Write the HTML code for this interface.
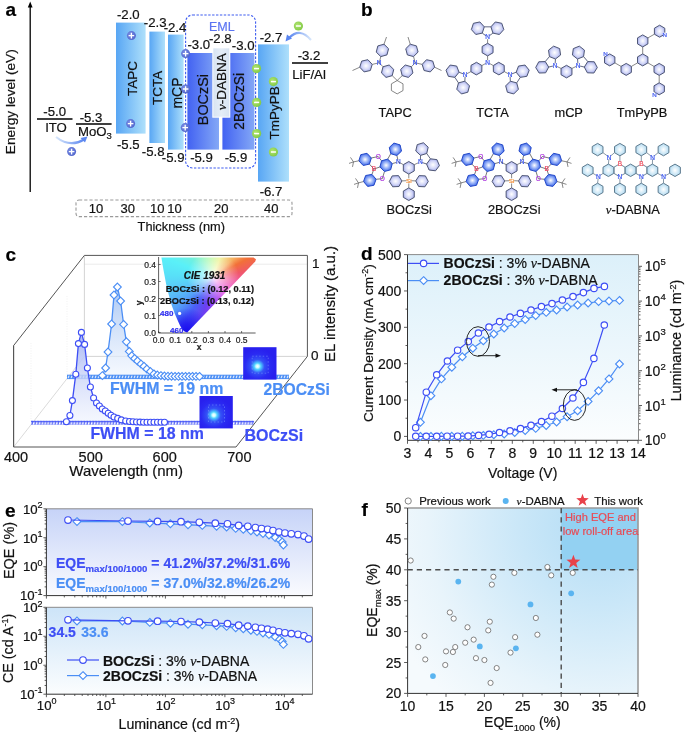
<!DOCTYPE html>
<html><head><meta charset="utf-8"><style>
html,body{margin:0;padding:0;background:#fff;} body{position:relative;width:685px;height:733px;overflow:hidden;}
svg{display:block;position:absolute;left:0;top:0;will-change:transform;font-family:"Liberation Sans",sans-serif;} text{paint-order:stroke;}
</style></head><body>
<svg width="685" height="733" viewBox="0 0 685 733">
<defs>
<linearGradient id="gL" x1="0" x2="1" y1="0" y2="0"><stop offset="0" stop-color="#58a6f4"/><stop offset="1" stop-color="#aee0fb"/></linearGradient>
<linearGradient id="gD" x1="0" x2="1" y1="0" y2="0"><stop offset="0" stop-color="#4262f2"/><stop offset="1" stop-color="#84a8f6"/></linearGradient>
<linearGradient id="gN" x1="0" x2="1" y1="0" y2="0"><stop offset="0" stop-color="#d8e4f2"/><stop offset="0.5" stop-color="#e4edf7"/><stop offset="1" stop-color="#d8e4f2"/></linearGradient>
<radialGradient id="gPlus" cx="0.4" cy="0.4" r="0.7"><stop offset="0" stop-color="#7f92e8"/><stop offset="1" stop-color="#4a5fc8"/></radialGradient>
<radialGradient id="gMinus" cx="0.4" cy="0.4" r="0.7"><stop offset="0" stop-color="#b2e672"/><stop offset="1" stop-color="#7cc640"/></radialGradient>
<linearGradient id="gArr" x1="0" x2="1" y1="0" y2="0"><stop offset="0" stop-color="#d6e6fb"/><stop offset="1" stop-color="#5a86f0"/></linearGradient>
<linearGradient id="gArr2" x1="1" x2="0" y1="0" y2="0"><stop offset="0" stop-color="#d6e6fb"/><stop offset="1" stop-color="#5a86f0"/></linearGradient>
<radialGradient id="hLav" cx="0.5" cy="0.5" r="0.55"><stop offset="0" stop-color="#ffffff"/><stop offset="0.55" stop-color="#d4d8f8"/><stop offset="1" stop-color="#9aa2e6"/></radialGradient>
<radialGradient id="hBlue" cx="0.5" cy="0.5" r="0.55"><stop offset="0" stop-color="#ffffff"/><stop offset="0.45" stop-color="#9ab4f8"/><stop offset="1" stop-color="#2c5ae6"/></radialGradient>
<radialGradient id="hCyan" cx="0.5" cy="0.5" r="0.55"><stop offset="0" stop-color="#ffffff"/><stop offset="1" stop-color="#acd8f0"/></radialGradient>
<linearGradient id="gSpec1" x1="0" x2="0" y1="0" y2="1"><stop offset="0" stop-color="#a9b8f4"/><stop offset="1" stop-color="#eef2fd" stop-opacity="0.6"/></linearGradient>
<linearGradient id="gSpec2" x1="0" x2="0" y1="0" y2="1"><stop offset="0" stop-color="#a8c6f4"/><stop offset="1" stop-color="#eef4fd" stop-opacity="0.6"/></linearGradient>
<radialGradient id="gDev" cx="0.43" cy="0.59" r="0.55" fx="0.43" fy="0.59"><stop offset="0" stop-color="#ffffff"/><stop offset="0.09" stop-color="#c8fbff"/><stop offset="0.18" stop-color="#4fd2ff"/><stop offset="0.38" stop-color="#3452f6"/><stop offset="0.7" stop-color="#2a2af2"/><stop offset="1" stop-color="#2820ee"/></radialGradient>
<linearGradient id="cieH" x1="158" x2="258" y1="0" y2="0" gradientUnits="userSpaceOnUse"><stop offset="0" stop-color="#4fd9f6"/><stop offset="0.3" stop-color="#6eefd8"/><stop offset="0.5" stop-color="#b8f59a"/><stop offset="0.65" stop-color="#eef08a"/><stop offset="0.82" stop-color="#f7a558"/><stop offset="1" stop-color="#f2602a"/></linearGradient>
<linearGradient id="cieM" x1="200" x2="240" y1="300" y2="270" gradientUnits="userSpaceOnUse"><stop offset="0" stop-color="#d040f0" stop-opacity="0.9"/><stop offset="0.5" stop-color="#f060b0" stop-opacity="0.55"/><stop offset="1" stop-color="#f06080" stop-opacity="0"/></linearGradient>
<radialGradient id="cieB" cx="188" cy="332" r="38" gradientUnits="userSpaceOnUse"><stop offset="0" stop-color="#1a10f0"/><stop offset="0.45" stop-color="#2a30f5" stop-opacity="0.85"/><stop offset="1" stop-color="#4060f8" stop-opacity="0"/></radialGradient>
<linearGradient id="gD_bg" x1="0" x2="0" y1="0" y2="1"><stop offset="0" stop-color="#dcf0fa"/><stop offset="1" stop-color="#fbfdfe"/></linearGradient>
<linearGradient id="gE_bg" x1="0" x2="0" y1="0" y2="1"><stop offset="0" stop-color="#c6d3f8"/><stop offset="1" stop-color="#fafbfe"/></linearGradient><linearGradient id="gE_bg2" x1="0" x2="0" y1="0" y2="1"><stop offset="0" stop-color="#cde4f8"/><stop offset="1" stop-color="#fbfdfe"/></linearGradient>
<radialGradient id="gF_bg" cx="600" cy="525" r="230" gradientUnits="userSpaceOnUse"><stop offset="0" stop-color="#b2dcf5"/><stop offset="0.35" stop-color="#cae7f8"/><stop offset="0.75" stop-color="#e8f4fb"/><stop offset="1" stop-color="#f5fafd"/></radialGradient>

</defs>
<rect width="685" height="733" fill="#fff"/>
<g id="pa"><text x="5.5" y="15.6" font-size="19" text-anchor="start" font-weight="bold" fill="#000"  stroke="#000" stroke-width="0.2">a</text>
<path d="M30.2 192V6" stroke="#000" stroke-width="1.3"/>
<path d="M27.8 7.5L30.2 1.5L32.6 7.5Z" fill="#000"/>
<text transform="translate(9.8,101.7) rotate(-90)" x="0" y="4.93" font-size="13.7" text-anchor="middle" font-weight="normal" fill="#111"  stroke="#111" stroke-width="0.2">Energy level (eV)</text>
<path d="M37 119H72.5M76 124H111.6" stroke="#000" stroke-width="1.6"/>
<text x="54.7" y="116.4" font-size="13.2" text-anchor="middle" font-weight="normal" fill="#111"  stroke="#111" stroke-width="0.2">-5.0</text>
<text x="56" y="131.6" font-size="13.2" text-anchor="middle" font-weight="normal" fill="#111"  stroke="#111" stroke-width="0.2">ITO</text>
<text x="91" y="121.6" font-size="13.2" text-anchor="middle" font-weight="normal" fill="#111"  stroke="#111" stroke-width="0.2">-5.3</text>
<text x="78" y="136" font-size="13.2" fill="#111" stroke="#111" stroke-width="0.2">MoO<tspan font-size="9.5" dy="3">3</tspan></text>
<path d="M56 137Q70 148 84 139.5" fill="none" stroke="url(#gArr)" stroke-width="2.2"/>
<path d="M87.5 136.5L80.5 138L85 142.5Z" fill="#5a86f0"/>
<circle cx="71.6" cy="151.6" r="4.5" fill="url(#gPlus)"/><path d="M68.81 151.6H74.39M71.6 148.81V154.39" stroke="#fff" stroke-width="1.3"/>
<rect x="116" y="22.6" width="29.599999999999994" height="111.0" fill="url(#gL)"/>
<rect x="149.4" y="31.6" width="15.599999999999994" height="111.4" fill="url(#gL)"/>
<rect x="168" y="34.6" width="15.599999999999994" height="115.0" fill="url(#gL)"/>
<rect x="187.4" y="53" width="31.599999999999994" height="96.6" fill="url(#gD)"/>
<rect x="222.4" y="53" width="32.0" height="96.6" fill="url(#gD)"/>
<rect x="212.3" y="47.3" width="18" height="70.4" fill="#fff"/>
<rect x="213.3" y="48.3" width="16.0" height="68.4" fill="url(#gN)"/>
<rect x="258" y="44.4" width="31" height="137.2" fill="url(#gL)"/>
<rect x="185.6" y="15" width="70" height="153" rx="7" fill="none" stroke="#3f5df0" stroke-width="1.1" stroke-dasharray="2.4,1.5"/>
<text x="221.8" y="31" font-size="12.5" text-anchor="middle" font-weight="normal" fill="#5b74f2"  stroke="#5b74f2" stroke-width="0.2">EML</text>
<path d="M292 63H328" stroke="#000" stroke-width="1.6"/>
<text x="309" y="60" font-size="13.2" text-anchor="middle" font-weight="normal" fill="#111"  stroke="#111" stroke-width="0.2">-3.2</text>
<text x="309" y="79" font-size="13.2" text-anchor="middle" font-weight="normal" fill="#111"  stroke="#111" stroke-width="0.2">LiF/Al</text>
<text x="128.3" y="19" font-size="13.2" text-anchor="middle" font-weight="normal" fill="#111"  stroke="#111" stroke-width="0.2">-2.0</text>
<text x="155.2" y="27" font-size="13.2" text-anchor="middle" font-weight="normal" fill="#111"  stroke="#111" stroke-width="0.2">-2.3</text>
<text x="175" y="32" font-size="13.2" text-anchor="middle" font-weight="normal" fill="#111"  stroke="#111" stroke-width="0.2">-2.4</text>
<text x="198.8" y="49" font-size="13.2" text-anchor="middle" font-weight="normal" fill="#111"  stroke="#111" stroke-width="0.2">-3.0</text>
<text x="220.3" y="43" font-size="13.2" text-anchor="middle" font-weight="normal" fill="#111"  stroke="#111" stroke-width="0.2">-2.8</text>
<text x="243.2" y="49.6" font-size="13.2" text-anchor="middle" font-weight="normal" fill="#111"  stroke="#111" stroke-width="0.2">-3.0</text>
<text x="271" y="42" font-size="13.2" text-anchor="middle" font-weight="normal" fill="#111"  stroke="#111" stroke-width="0.2">-2.7</text>
<text x="128.3" y="149" font-size="13.2" text-anchor="middle" font-weight="normal" fill="#111"  stroke="#111" stroke-width="0.2">-5.5</text>
<text x="153.2" y="156" font-size="13.2" text-anchor="middle" font-weight="normal" fill="#111"  stroke="#111" stroke-width="0.2">-5.8</text>
<text x="173.2" y="162" font-size="13.2" text-anchor="middle" font-weight="normal" fill="#111"  stroke="#111" stroke-width="0.2">-5.9</text>
<text x="201.5" y="162.4" font-size="13.2" text-anchor="middle" font-weight="normal" fill="#111"  stroke="#111" stroke-width="0.2">-5.9</text>
<text x="236" y="162.4" font-size="13.2" text-anchor="middle" font-weight="normal" fill="#111"  stroke="#111" stroke-width="0.2">-5.9</text>
<text x="271" y="196" font-size="13.2" text-anchor="middle" font-weight="normal" fill="#111"  stroke="#111" stroke-width="0.2">-6.7</text>
<text transform="translate(132.2,78.5) rotate(-90)" x="0" y="4.86" font-size="13.5" text-anchor="middle" font-weight="normal" fill="#111"  stroke="#111" stroke-width="0.2">TAPC</text>
<text transform="translate(157.3,87.9) rotate(-90)" x="0" y="4.82" font-size="13.4" text-anchor="middle" font-weight="normal" fill="#111"  stroke="#111" stroke-width="0.2">TCTA</text>
<text transform="translate(177,93) rotate(-90)" x="0" y="5.04" font-size="14" text-anchor="middle" font-weight="normal" fill="#111"  stroke="#111" stroke-width="0.2">mCP</text>
<text transform="translate(203.2,99.6) rotate(-90)" x="0" y="5.18" font-size="14.4" text-anchor="middle" font-weight="normal" fill="#111"  stroke="#111" stroke-width="0.2">BOCzSi</text>
<text transform="translate(221,81.7) rotate(-90)" x="0" y="4.86" font-size="13.5" text-anchor="middle" font-weight="normal" fill="#111"  stroke="#111" stroke-width="0.2"><tspan font-family="Liberation Serif" font-style="italic">ν</tspan>-DABNA</text>
<text transform="translate(238.8,101.3) rotate(-90)" x="0" y="4.97" font-size="13.8" text-anchor="middle" font-weight="normal" fill="#111"  stroke="#111" stroke-width="0.2">2BOCzSi</text>
<text transform="translate(273.9,112.9) rotate(-90)" x="0" y="4.86" font-size="13.5" text-anchor="middle" font-weight="normal" fill="#111"  stroke="#111" stroke-width="0.2">TmPyPB</text>
<circle cx="131.4" cy="35.6" r="4.5" fill="url(#gPlus)"/><path d="M128.61 35.6H134.19M131.4 32.81V38.39" stroke="#fff" stroke-width="1.3"/>
<circle cx="130.6" cy="123.6" r="4.5" fill="url(#gPlus)"/><path d="M127.81 123.6H133.39M130.6 120.81V126.39" stroke="#fff" stroke-width="1.3"/>
<circle cx="185.6" cy="53.6" r="4.5" fill="url(#gPlus)"/><path d="M182.81 53.6H188.39M185.6 50.81V56.39" stroke="#fff" stroke-width="1.3"/>
<circle cx="185.6" cy="89" r="4.5" fill="url(#gPlus)"/><path d="M182.81 89H188.39M185.6 86.21V91.79" stroke="#fff" stroke-width="1.3"/>
<circle cx="185.2" cy="127.6" r="4.5" fill="url(#gPlus)"/><path d="M182.41 127.6H187.99M185.2 124.81V130.39" stroke="#fff" stroke-width="1.3"/>
<circle cx="256.5" cy="68.6" r="4.6" fill="url(#gMinus)"/><path d="M253.97 68.6H259.03" stroke="#fff" stroke-width="1.5"/>
<circle cx="256.6" cy="102.4" r="4.6" fill="url(#gMinus)"/><path d="M254.07 102.4H259.13" stroke="#fff" stroke-width="1.5"/>
<circle cx="256.6" cy="133.6" r="4.6" fill="url(#gMinus)"/><path d="M254.07 133.6H259.13" stroke="#fff" stroke-width="1.5"/>
<circle cx="273.4" cy="81.6" r="4.6" fill="url(#gMinus)"/><path d="M270.87 81.6H275.93" stroke="#fff" stroke-width="1.5"/>
<circle cx="273.4" cy="152" r="4.6" fill="url(#gMinus)"/><path d="M270.87 152H275.93" stroke="#fff" stroke-width="1.5"/>
<circle cx="298.4" cy="26" r="4.6" fill="url(#gMinus)"/><path d="M295.87 26H300.93" stroke="#fff" stroke-width="1.5"/>
<path d="M311 40Q300 27 289 38" fill="none" stroke="url(#gArr2)" stroke-width="2.2"/>
<path d="M285.5 41.5L287 34.5L292 38.5Z" fill="#5a86f0"/>
<rect x="76" y="200" width="216" height="16.6" rx="3" fill="none" stroke="#9a9a9a" stroke-width="1.1" stroke-dasharray="3.2,2"/>
<text x="96" y="213.4" font-size="13" text-anchor="middle" font-weight="normal" fill="#111"  stroke="#111" stroke-width="0.2">10</text>
<text x="127.7" y="213.4" font-size="13" text-anchor="middle" font-weight="normal" fill="#111"  stroke="#111" stroke-width="0.2">30</text>
<text x="157.2" y="213.4" font-size="13" text-anchor="middle" font-weight="normal" fill="#111"  stroke="#111" stroke-width="0.2">10</text>
<text x="174.4" y="213.4" font-size="13" text-anchor="middle" font-weight="normal" fill="#111"  stroke="#111" stroke-width="0.2">10</text>
<text x="221.3" y="213.4" font-size="13" text-anchor="middle" font-weight="normal" fill="#111"  stroke="#111" stroke-width="0.2">20</text>
<text x="271.3" y="213.4" font-size="13" text-anchor="middle" font-weight="normal" fill="#111"  stroke="#111" stroke-width="0.2">40</text>
<text x="181.3" y="230.5" font-size="12.8" text-anchor="middle" font-weight="normal" fill="#111"  stroke="#111" stroke-width="0.2">Thickness (nm)</text></g>
<g id="pb"><text x="361" y="16" font-size="19" text-anchor="start" font-weight="bold" fill="#000"  stroke="#000" stroke-width="0.2">b</text>
<path d="M397.20 80.50 L403.00 83.85 L403.00 90.55 L397.20 93.90 L391.40 90.55 L391.40 83.85Z" fill="none" stroke="#555" stroke-width="0.7"/>
<path d="M392.20 75.65L397.20 80.50" stroke="#555" stroke-width="0.7"/>
<path d="M402.20 75.65L397.20 80.50" stroke="#555" stroke-width="0.7"/>
<path d="M383.00 66.75L379.20 62.80" stroke="#555" stroke-width="0.7"/>
<path d="M380.80 56.60L379.20 62.80" stroke="#555" stroke-width="0.7"/>
<path d="M372.24 64.38L379.20 62.80" stroke="#555" stroke-width="0.7"/>
<path d="M411.40 66.75L415.20 62.80" stroke="#555" stroke-width="0.7"/>
<path d="M413.55 56.58L415.20 62.80" stroke="#555" stroke-width="0.7"/>
<path d="M422.16 64.38L415.20 62.80" stroke="#555" stroke-width="0.7"/>
<path d="M384.00 44.20L386.50 37.00" stroke="#555" stroke-width="0.7"/>
<path d="M410.25 44.22L408.00 37.00" stroke="#555" stroke-width="0.7"/>
<path d="M359.76 67.22L352.50 70.50" stroke="#555" stroke-width="0.7"/>
<path d="M434.64 67.22L441.50 70.50" stroke="#555" stroke-width="0.7"/>
<path d="M392.20 75.65 L386.04 77.41 L381.45 72.95 L383.00 66.75 L389.16 64.99 L393.75 69.45Z" fill="url(#hLav)" stroke="#4f5775" stroke-width="1.0"/>
<path d="M402.20 75.65 L400.65 69.45 L405.24 64.99 L411.40 66.75 L412.95 72.95 L408.36 77.41Z" fill="url(#hLav)" stroke="#4f5775" stroke-width="1.0"/>
<path d="M380.80 56.60 L376.23 52.11 L377.83 45.92 L384.00 44.20 L388.57 48.69 L386.97 54.88Z" fill="url(#hLav)" stroke="#4f5775" stroke-width="1.0"/>
<path d="M372.24 64.38 L370.35 70.50 L364.11 71.91 L359.76 67.22 L361.65 61.10 L367.89 59.69Z" fill="url(#hLav)" stroke="#4f5775" stroke-width="1.0"/>
<path d="M413.55 56.58 L407.37 54.92 L405.72 48.73 L410.25 44.22 L416.43 45.88 L418.08 52.07Z" fill="url(#hLav)" stroke="#4f5775" stroke-width="1.0"/>
<path d="M422.16 64.38 L426.51 59.69 L432.75 61.10 L434.64 67.22 L430.29 71.91 L424.05 70.50Z" fill="url(#hLav)" stroke="#4f5775" stroke-width="1.0"/>
<text x="379.20" y="65.14" font-size="6.5" text-anchor="middle" fill="#3a55f0" stroke="#3a55f0" stroke-width="0.2">N</text>
<text x="415.20" y="65.14" font-size="6.5" text-anchor="middle" fill="#3a55f0" stroke="#3a55f0" stroke-width="0.2">N</text>
<text x="395.2" y="117" font-size="12.8" text-anchor="middle" font-weight="normal" fill="#111"  stroke="#111" stroke-width="0.2">TAPC</text>
<path d="M482.26 33.12 L475.81 34.49 L471.39 29.59 L473.43 23.31 L479.88 21.94 L484.30 26.84Z" fill="url(#hLav)" stroke="#4f5775" stroke-width="1.0"/><path d="M492.94 33.12 L490.90 26.84 L495.32 21.94 L501.77 23.31 L503.81 29.59 L499.39 34.49Z" fill="url(#hLav)" stroke="#4f5775" stroke-width="1.0"/><path d="M487.60 37.00L482.26 33.12" stroke="#4f5775" stroke-width="0.9"/><path d="M487.60 37.00L492.94 33.12" stroke="#4f5775" stroke-width="0.9"/><path d="M484.30 26.84L490.90 26.84" stroke="#4f5775" stroke-width="0.9"/>
<path d="M464.85 81.19 L469.52 85.86 L467.81 92.23 L461.44 93.94 L456.77 89.27 L458.48 82.90Z" fill="url(#hLav)" stroke="#4f5775" stroke-width="1.0"/><path d="M459.04 72.24 L454.89 77.36 L448.37 76.33 L446.00 70.17 L450.16 65.04 L456.68 66.07Z" fill="url(#hLav)" stroke="#4f5775" stroke-width="1.0"/><path d="M465.20 74.60L464.85 81.19" stroke="#4f5775" stroke-width="0.9"/><path d="M465.20 74.60L459.04 72.23" stroke="#4f5775" stroke-width="0.9"/><path d="M458.48 82.90L454.89 77.36" stroke="#4f5775" stroke-width="0.9"/>
<path d="M516.16 72.24 L518.52 66.07 L525.04 65.04 L529.20 70.17 L526.83 76.33 L520.31 77.36Z" fill="url(#hLav)" stroke="#4f5775" stroke-width="1.0"/><path d="M510.35 81.19 L516.72 82.90 L518.43 89.27 L513.76 93.94 L507.39 92.23 L505.68 85.86Z" fill="url(#hLav)" stroke="#4f5775" stroke-width="1.0"/><path d="M510.00 74.60L516.16 72.23" stroke="#4f5775" stroke-width="0.9"/><path d="M510.00 74.60L510.35 81.19" stroke="#4f5775" stroke-width="0.9"/><path d="M520.31 77.36L516.72 82.90" stroke="#4f5775" stroke-width="0.9"/>
<path d="M487.60 43.30L487.60 37.00" stroke="#555" stroke-width="0.7"/>
<path d="M487.60 55.90L487.60 62.40" stroke="#555" stroke-width="0.7"/>
<path d="M487.60 43.30 L493.06 46.45 L493.06 52.75 L487.60 55.90 L482.14 52.75 L482.14 46.45Z" fill="url(#hLav)" stroke="#4f5775" stroke-width="1.0"/>
<path d="M481.91 65.55L487.60 62.40" stroke="#555" stroke-width="0.7"/>
<path d="M470.89 71.65L465.20 74.60" stroke="#555" stroke-width="0.7"/>
<path d="M481.91 65.55 L481.80 71.85 L476.29 74.90 L470.89 71.65 L471.00 65.35 L476.51 62.30Z" fill="url(#hLav)" stroke="#4f5775" stroke-width="1.0"/>
<path d="M493.29 65.55L487.60 62.40" stroke="#555" stroke-width="0.7"/>
<path d="M504.31 71.65L510.00 74.60" stroke="#555" stroke-width="0.7"/>
<path d="M493.29 65.55 L498.69 62.30 L504.20 65.35 L504.31 71.65 L498.91 74.90 L493.40 71.85Z" fill="url(#hLav)" stroke="#4f5775" stroke-width="1.0"/>
<circle cx="487.6" cy="37" r="2.2" fill="#fff"/>
<text x="487.60" y="39.34" font-size="6.5" text-anchor="middle" fill="#3a55f0" stroke="#3a55f0" stroke-width="0.2">N</text>
<circle cx="487.6" cy="62.4" r="2.2" fill="#fff"/>
<text x="487.60" y="64.74" font-size="6.5" text-anchor="middle" fill="#3a55f0" stroke="#3a55f0" stroke-width="0.2">N</text>
<circle cx="465.2" cy="74.6" r="2.2" fill="#fff"/>
<text x="465.20" y="76.94" font-size="6.5" text-anchor="middle" fill="#3a55f0" stroke="#3a55f0" stroke-width="0.2">N</text>
<circle cx="510" cy="74.6" r="2.2" fill="#fff"/>
<text x="510.00" y="76.94" font-size="6.5" text-anchor="middle" fill="#3a55f0" stroke="#3a55f0" stroke-width="0.2">N</text>
<text x="492.5" y="117" font-size="12.8" text-anchor="middle" font-weight="normal" fill="#111"  stroke="#111" stroke-width="0.2">TCTA</text>
<path d="M548.69 67.07 L545.64 72.81 L539.15 73.04 L535.70 67.53 L538.75 61.79 L545.25 61.56Z" fill="url(#hLav)" stroke="#4f5775" stroke-width="1.0"/><path d="M555.45 59.02 L549.43 56.58 L548.52 50.15 L553.65 46.14 L559.67 48.58 L560.58 55.02Z" fill="url(#hLav)" stroke="#4f5775" stroke-width="1.0"/><path d="M555.00 65.50L548.69 67.07" stroke="#4f5775" stroke-width="0.9"/><path d="M555.00 65.50L555.45 59.02" stroke="#4f5775" stroke-width="0.9"/><path d="M545.25 61.56L549.43 56.58" stroke="#4f5775" stroke-width="0.9"/>
<path d="M577.55 59.02 L572.42 55.02 L573.33 48.58 L579.35 46.14 L584.48 50.15 L583.57 56.58Z" fill="url(#hLav)" stroke="#4f5775" stroke-width="1.0"/><path d="M584.31 67.07 L587.75 61.56 L594.25 61.79 L597.30 67.53 L593.85 73.04 L587.36 72.81Z" fill="url(#hLav)" stroke="#4f5775" stroke-width="1.0"/><path d="M578.00 65.50L577.55 59.02" stroke="#4f5775" stroke-width="0.9"/><path d="M578.00 65.50L584.31 67.07" stroke="#4f5775" stroke-width="0.9"/><path d="M583.57 56.58L587.75 61.56" stroke="#4f5775" stroke-width="0.9"/>
<path d="M561.04 68.45L555.00 65.50" stroke="#555" stroke-width="0.7"/>
<path d="M571.96 68.45L578.00 65.50" stroke="#555" stroke-width="0.7"/>
<path d="M566.50 65.30 L571.96 68.45 L571.96 74.75 L566.50 77.90 L561.04 74.75 L561.04 68.45Z" fill="url(#hLav)" stroke="#4f5775" stroke-width="1.0"/>
<circle cx="555" cy="65.5" r="2.2" fill="#fff"/>
<text x="555.00" y="67.84" font-size="6.5" text-anchor="middle" fill="#3a55f0" stroke="#3a55f0" stroke-width="0.2">N</text>
<circle cx="578" cy="65.5" r="2.2" fill="#fff"/>
<text x="578.00" y="67.84" font-size="6.5" text-anchor="middle" fill="#3a55f0" stroke="#3a55f0" stroke-width="0.2">N</text>
<text x="568.7" y="117" font-size="12.8" text-anchor="middle" font-weight="normal" fill="#111"  stroke="#111" stroke-width="0.2">mCP</text>
<path d="M642.70 53.90L642.70 46.90" stroke="#555" stroke-width="0.7"/>
<path d="M647.90 37.90L654.40 34.19" stroke="#555" stroke-width="0.7"/>
<path d="M637.50 62.90L631.40 66.41" stroke="#555" stroke-width="0.7"/>
<path d="M621.01 66.39L614.90 62.89" stroke="#555" stroke-width="0.7"/>
<path d="M647.90 62.90L654.00 66.41" stroke="#555" stroke-width="0.7"/>
<path d="M659.21 75.40L659.20 82.80" stroke="#555" stroke-width="0.7"/>
<path d="M642.70 53.90 L647.90 56.90 L647.90 62.90 L642.70 65.90 L637.50 62.90 L637.50 56.90Z" fill="url(#hLav)" stroke="#4f5775" stroke-width="1.0"/>
<path d="M642.70 46.90 L637.50 43.90 L637.50 37.90 L642.70 34.90 L647.90 37.90 L647.90 43.90Z" fill="url(#hLav)" stroke="#4f5775" stroke-width="1.0"/>
<path d="M654.40 34.19 L654.41 28.19 L659.62 25.20 L664.80 28.21 L664.79 34.21 L659.58 37.20Z" fill="url(#hLav)" stroke="#4f5775" stroke-width="1.0"/>
<path d="M631.40 66.41 L631.39 72.41 L626.19 75.40 L621.00 72.39 L621.01 66.39 L626.21 63.40Z" fill="url(#hLav)" stroke="#4f5775" stroke-width="1.0"/>
<path d="M614.90 62.89 L609.71 65.90 L604.51 62.91 L604.50 56.91 L609.69 53.90 L614.89 56.89Z" fill="url(#hLav)" stroke="#4f5775" stroke-width="1.0"/>
<path d="M654.00 66.41 L659.19 63.40 L664.39 66.39 L664.40 72.39 L659.21 75.40 L654.01 72.41Z" fill="url(#hLav)" stroke="#4f5775" stroke-width="1.0"/>
<path d="M659.20 82.80 L664.40 85.80 L664.40 91.80 L659.20 94.80 L654.00 91.80 L654.00 85.80Z" fill="url(#hLav)" stroke="#4f5775" stroke-width="1.0"/>
<circle cx="664.8" cy="34.5" r="2" fill="#fff"/>
<text x="664.80" y="36.73" font-size="6.2" text-anchor="middle" fill="#3a55f0" stroke="#3a55f0" stroke-width="0.2">N</text>
<circle cx="605.6" cy="54" r="2" fill="#fff"/>
<text x="605.60" y="56.23" font-size="6.2" text-anchor="middle" fill="#3a55f0" stroke="#3a55f0" stroke-width="0.2">N</text>
<circle cx="654.6" cy="94.4" r="2" fill="#fff"/>
<text x="654.60" y="96.63" font-size="6.2" text-anchor="middle" fill="#3a55f0" stroke="#3a55f0" stroke-width="0.2">N</text>
<text x="642" y="117" font-size="12.8" text-anchor="middle" font-weight="normal" fill="#111"  stroke="#111" stroke-width="0.2">TmPyPB</text>
<path d="M378.20 156.50L371.35 158.01" stroke="#555" stroke-width="0.8"/><path d="M378.20 156.50L381.54 160.81" stroke="#555" stroke-width="0.8"/><path d="M382.30 178.70L376.10 179.26" stroke="#555" stroke-width="0.8"/><path d="M382.30 178.70L384.49 171.49" stroke="#555" stroke-width="0.8"/><path d="M373.90 169.00L369.42 164.12" stroke="#555" stroke-width="0.8"/><path d="M373.90 169.00L371.97 174.38" stroke="#555" stroke-width="0.8"/><path d="M373.90 169.00L379.93 167.01" stroke="#555" stroke-width="0.8"/><path d="M398.40 161.90L392.27 163.59" stroke="#555" stroke-width="0.8"/><path d="M398.40 161.90L396.88 155.53" stroke="#555" stroke-width="0.8"/><path d="M387.71 159.11L390.75 153.70" stroke="#555" stroke-width="0.8"/><path d="M369.42 164.12 L363.18 165.50 L358.85 160.79 L360.78 154.68 L367.02 153.30 L371.35 158.01Z" fill="url(#hBlue)" stroke="#2348c8" stroke-width="1.0"/><path d="M371.97 174.38 L376.10 179.26 L373.93 185.29 L367.63 186.42 L363.50 181.54 L365.67 175.51Z" fill="url(#hBlue)" stroke="#2348c8" stroke-width="1.0"/><path d="M392.27 163.59 L390.66 169.79 L384.49 171.49 L379.93 167.01 L381.54 160.81 L387.71 159.11Z" fill="url(#hBlue)" stroke="#2348c8" stroke-width="1.0"/><path d="M396.88 155.53 L390.75 153.70 L389.27 147.47 L393.92 143.07 L400.05 144.90 L401.53 151.13Z" fill="url(#hBlue)" stroke="#2348c8" stroke-width="1.0"/><text x="378.20" y="158.84" font-size="6.5" text-anchor="middle" fill="#b040e0" stroke="#b040e0" stroke-width="0.2">O</text><text x="382.30" y="181.04" font-size="6.5" text-anchor="middle" fill="#b040e0" stroke="#b040e0" stroke-width="0.2">O</text><text x="373.90" y="171.34" font-size="6.5" text-anchor="middle" fill="#f04060" stroke="#f04060" stroke-width="0.2">B</text><circle cx="398.40" cy="161.9" r="2" fill="#fff"/><text x="398.40" y="164.24" font-size="6.5" text-anchor="middle" fill="#3a55f0" stroke="#3a55f0" stroke-width="0.2">N</text><path d="M358.85 160.79L353.50 161.90" stroke="#555" stroke-width="0.7"/><path d="M353.50 161.90L350.50 157.40" stroke="#555" stroke-width="0.7"/><path d="M353.50 161.90L349.00 163.40" stroke="#555" stroke-width="0.7"/><path d="M353.50 161.90L352.50 166.90" stroke="#555" stroke-width="0.7"/><path d="M363.50 181.54L358.50 182.90" stroke="#555" stroke-width="0.7"/><path d="M358.50 182.90L355.50 178.40" stroke="#555" stroke-width="0.7"/><path d="M358.50 182.90L354.00 184.40" stroke="#555" stroke-width="0.7"/><path d="M358.50 182.90L357.50 187.90" stroke="#555" stroke-width="0.7"/>
<path d="M408.80 174.10L408.80 180.60" stroke="#555" stroke-width="0.7"/><path d="M403.34 164.65L398.40 161.90" stroke="#555" stroke-width="0.7"/><path d="M414.26 164.65L420.40 161.90" stroke="#555" stroke-width="0.7"/><path d="M408.80 174.10 L403.34 170.95 L403.34 164.65 L408.80 161.50 L414.26 164.65 L414.26 170.95Z" fill="url(#hLav)" stroke="#4f5775" stroke-width="1.0"/><path d="M401.89 180.91L408.80 180.60" stroke="#555" stroke-width="0.7"/><path d="M401.89 180.91 L398.99 186.51 L392.70 186.79 L389.31 181.49 L392.21 175.89 L398.50 175.61Z" fill="url(#hLav)" stroke="#4f5775" stroke-width="1.0"/><path d="M415.71 180.91L408.80 180.60" stroke="#555" stroke-width="0.7"/><path d="M415.71 180.91 L419.10 175.61 L425.39 175.89 L428.29 181.49 L424.90 186.79 L418.61 186.51Z" fill="url(#hLav)" stroke="#4f5775" stroke-width="1.0"/><path d="M408.80 187.90L408.80 180.60" stroke="#555" stroke-width="0.7"/><path d="M408.80 187.90 L414.26 191.05 L414.26 197.35 L408.80 200.50 L403.34 197.35 L403.34 191.05Z" fill="url(#hLav)" stroke="#4f5775" stroke-width="1.0"/><circle cx="408.8" cy="180.8" r="2.6" fill="#fff"/><text x="408.80" y="182.83" font-size="6.2" text-anchor="middle" fill="#f08a30" stroke="#f08a30" stroke-width="0.2">Si</text>
<path d="M420.51 155.40 L415.76 150.97 L417.22 144.64 L423.44 142.74 L428.19 147.17 L426.73 153.50Z" fill="url(#hLav)" stroke="#4f5775" stroke-width="1.0"/><path d="M426.54 164.02 L430.46 158.82 L436.91 159.62 L439.45 165.60 L435.53 170.79 L429.08 170.00Z" fill="url(#hLav)" stroke="#4f5775" stroke-width="1.0"/><path d="M420.40 161.90L420.51 155.40" stroke="#4f5775" stroke-width="0.9"/><path d="M420.40 161.90L426.55 164.02" stroke="#4f5775" stroke-width="0.9"/><path d="M426.73 153.50L430.46 158.83" stroke="#4f5775" stroke-width="0.9"/>
<circle cx="420.4" cy="161.9" r="2" fill="#fff"/>
<text x="420.40" y="164.24" font-size="6.5" text-anchor="middle" fill="#3a55f0" stroke="#3a55f0" stroke-width="0.2">N</text>
<text x="409.2" y="214" font-size="12.8" text-anchor="middle" font-weight="normal" fill="#111"  stroke="#111" stroke-width="0.2">BOCzSi</text>
<path d="M480.80 156.50L473.95 158.01" stroke="#555" stroke-width="0.8"/><path d="M480.80 156.50L484.14 160.81" stroke="#555" stroke-width="0.8"/><path d="M484.90 178.70L478.70 179.26" stroke="#555" stroke-width="0.8"/><path d="M484.90 178.70L487.09 171.49" stroke="#555" stroke-width="0.8"/><path d="M476.50 169.00L472.02 164.12" stroke="#555" stroke-width="0.8"/><path d="M476.50 169.00L474.57 174.38" stroke="#555" stroke-width="0.8"/><path d="M476.50 169.00L482.53 167.01" stroke="#555" stroke-width="0.8"/><path d="M501.00 161.90L494.87 163.59" stroke="#555" stroke-width="0.8"/><path d="M501.00 161.90L499.48 155.53" stroke="#555" stroke-width="0.8"/><path d="M490.31 159.11L493.35 153.70" stroke="#555" stroke-width="0.8"/><path d="M472.02 164.12 L465.78 165.50 L461.45 160.79 L463.38 154.68 L469.62 153.30 L473.95 158.01Z" fill="url(#hBlue)" stroke="#2348c8" stroke-width="1.0"/><path d="M474.57 174.38 L478.70 179.26 L476.53 185.29 L470.23 186.42 L466.10 181.54 L468.27 175.51Z" fill="url(#hBlue)" stroke="#2348c8" stroke-width="1.0"/><path d="M494.87 163.59 L493.26 169.79 L487.09 171.49 L482.53 167.01 L484.14 160.81 L490.31 159.11Z" fill="url(#hBlue)" stroke="#2348c8" stroke-width="1.0"/><path d="M499.48 155.53 L493.35 153.70 L491.87 147.47 L496.52 143.07 L502.65 144.90 L504.13 151.13Z" fill="url(#hBlue)" stroke="#2348c8" stroke-width="1.0"/><text x="480.80" y="158.84" font-size="6.5" text-anchor="middle" fill="#b040e0" stroke="#b040e0" stroke-width="0.2">O</text><text x="484.90" y="181.04" font-size="6.5" text-anchor="middle" fill="#b040e0" stroke="#b040e0" stroke-width="0.2">O</text><text x="476.50" y="171.34" font-size="6.5" text-anchor="middle" fill="#f04060" stroke="#f04060" stroke-width="0.2">B</text><circle cx="501.00" cy="161.9" r="2" fill="#fff"/><text x="501.00" y="164.24" font-size="6.5" text-anchor="middle" fill="#3a55f0" stroke="#3a55f0" stroke-width="0.2">N</text><path d="M461.45 160.79L456.10 161.90" stroke="#555" stroke-width="0.7"/><path d="M456.10 161.90L453.10 157.40" stroke="#555" stroke-width="0.7"/><path d="M456.10 161.90L451.60 163.40" stroke="#555" stroke-width="0.7"/><path d="M456.10 161.90L455.10 166.90" stroke="#555" stroke-width="0.7"/><path d="M466.10 181.54L461.10 182.90" stroke="#555" stroke-width="0.7"/><path d="M461.10 182.90L458.10 178.40" stroke="#555" stroke-width="0.7"/><path d="M461.10 182.90L456.60 184.40" stroke="#555" stroke-width="0.7"/><path d="M461.10 182.90L460.10 187.90" stroke="#555" stroke-width="0.7"/>
<path d="M542.30 156.50L549.15 158.01" stroke="#555" stroke-width="0.8"/><path d="M542.30 156.50L538.96 160.81" stroke="#555" stroke-width="0.8"/><path d="M538.20 178.70L544.40 179.26" stroke="#555" stroke-width="0.8"/><path d="M538.20 178.70L536.01 171.49" stroke="#555" stroke-width="0.8"/><path d="M546.60 169.00L551.08 164.12" stroke="#555" stroke-width="0.8"/><path d="M546.60 169.00L548.53 174.38" stroke="#555" stroke-width="0.8"/><path d="M546.60 169.00L540.57 167.01" stroke="#555" stroke-width="0.8"/><path d="M522.10 161.90L528.23 163.59" stroke="#555" stroke-width="0.8"/><path d="M522.10 161.90L523.62 155.53" stroke="#555" stroke-width="0.8"/><path d="M532.79 159.11L529.75 153.70" stroke="#555" stroke-width="0.8"/><path d="M551.08 164.12 L549.15 158.01 L553.48 153.30 L559.72 154.68 L561.65 160.79 L557.32 165.50Z" fill="url(#hBlue)" stroke="#2348c8" stroke-width="1.0"/><path d="M548.53 174.38 L554.83 175.51 L557.00 181.54 L552.87 186.42 L546.57 185.29 L544.40 179.26Z" fill="url(#hBlue)" stroke="#2348c8" stroke-width="1.0"/><path d="M528.23 163.59 L532.79 159.11 L538.96 160.81 L540.57 167.01 L536.01 171.49 L529.84 169.79Z" fill="url(#hBlue)" stroke="#2348c8" stroke-width="1.0"/><path d="M523.62 155.53 L518.97 151.13 L520.45 144.90 L526.58 143.07 L531.23 147.47 L529.75 153.70Z" fill="url(#hBlue)" stroke="#2348c8" stroke-width="1.0"/><text x="542.30" y="158.84" font-size="6.5" text-anchor="middle" fill="#b040e0" stroke="#b040e0" stroke-width="0.2">O</text><text x="538.20" y="181.04" font-size="6.5" text-anchor="middle" fill="#b040e0" stroke="#b040e0" stroke-width="0.2">O</text><text x="546.60" y="171.34" font-size="6.5" text-anchor="middle" fill="#f04060" stroke="#f04060" stroke-width="0.2">B</text><circle cx="522.10" cy="161.9" r="2" fill="#fff"/><text x="522.10" y="164.24" font-size="6.5" text-anchor="middle" fill="#3a55f0" stroke="#3a55f0" stroke-width="0.2">N</text><path d="M561.65 160.79L567.00 161.90" stroke="#555" stroke-width="0.7"/><path d="M567.00 161.90L570.00 157.40" stroke="#555" stroke-width="0.7"/><path d="M567.00 161.90L571.50 163.40" stroke="#555" stroke-width="0.7"/><path d="M567.00 161.90L568.00 166.90" stroke="#555" stroke-width="0.7"/><path d="M557.00 181.54L562.00 182.90" stroke="#555" stroke-width="0.7"/><path d="M562.00 182.90L565.00 178.40" stroke="#555" stroke-width="0.7"/><path d="M562.00 182.90L566.50 184.40" stroke="#555" stroke-width="0.7"/><path d="M562.00 182.90L563.00 187.90" stroke="#555" stroke-width="0.7"/>
<path d="M511.60 174.10L511.60 180.60" stroke="#555" stroke-width="0.7"/><path d="M506.14 164.65L500.80 161.90" stroke="#555" stroke-width="0.7"/><path d="M517.06 164.65L522.40 161.90" stroke="#555" stroke-width="0.7"/><path d="M511.60 174.10 L506.14 170.95 L506.14 164.65 L511.60 161.50 L517.06 164.65 L517.06 170.95Z" fill="url(#hLav)" stroke="#4f5775" stroke-width="1.0"/><path d="M504.69 180.91L511.60 180.60" stroke="#555" stroke-width="0.7"/><path d="M504.69 180.91 L501.79 186.51 L495.50 186.79 L492.11 181.49 L495.01 175.89 L501.30 175.61Z" fill="url(#hLav)" stroke="#4f5775" stroke-width="1.0"/><path d="M518.51 180.91L511.60 180.60" stroke="#555" stroke-width="0.7"/><path d="M518.51 180.91 L521.90 175.61 L528.19 175.89 L531.09 181.49 L527.70 186.79 L521.41 186.51Z" fill="url(#hLav)" stroke="#4f5775" stroke-width="1.0"/><path d="M511.60 187.90L511.60 180.60" stroke="#555" stroke-width="0.7"/><path d="M511.60 187.90 L517.06 191.05 L517.06 197.35 L511.60 200.50 L506.14 197.35 L506.14 191.05Z" fill="url(#hLav)" stroke="#4f5775" stroke-width="1.0"/><circle cx="511.6" cy="180.8" r="2.6" fill="#fff"/><text x="511.60" y="182.83" font-size="6.2" text-anchor="middle" fill="#f08a30" stroke="#f08a30" stroke-width="0.2">Si</text>
<text x="514.2" y="214" font-size="12.8" text-anchor="middle" font-weight="normal" fill="#111"  stroke="#111" stroke-width="0.2">2BOCzSi</text>
<path d="M619.50 164.00 L624.96 167.15 L624.96 173.45 L619.50 176.60 L614.04 173.45 L614.04 167.15Z" fill="none" stroke="#5d7a8e" stroke-width="0.9"/>
<path d="M641.50 164.00 L646.96 167.15 L646.96 173.45 L641.50 176.60 L636.04 173.45 L636.04 167.15Z" fill="none" stroke="#5d7a8e" stroke-width="0.9"/>
<path d="M609.10 157.20L602.97 152.70" stroke="#6a7f90" stroke-width="0.8"/>
<path d="M609.10 157.20L614.53 152.70" stroke="#6a7f90" stroke-width="0.8"/>
<path d="M609.10 157.20L608.40 164.10" stroke="#6a7f90" stroke-width="0.8"/>
<path d="M598.40 176.60L593.07 173.40" stroke="#6a7f90" stroke-width="0.8"/>
<path d="M598.40 176.60L603.03 173.40" stroke="#6a7f90" stroke-width="0.8"/>
<path d="M598.40 176.60L597.60 183.20" stroke="#6a7f90" stroke-width="0.8"/>
<path d="M619.90 176.60L619.90 183.20" stroke="#6a7f90" stroke-width="0.8"/>
<path d="M641.30 176.60L641.30 183.20" stroke="#6a7f90" stroke-width="0.8"/>
<path d="M652.60 157.20L646.67 152.70" stroke="#6a7f90" stroke-width="0.8"/>
<path d="M652.60 157.20L658.13 152.70" stroke="#6a7f90" stroke-width="0.8"/>
<path d="M652.60 157.20L652.40 164.10" stroke="#6a7f90" stroke-width="0.8"/>
<path d="M663.50 176.60L669.63 173.40" stroke="#6a7f90" stroke-width="0.8"/>
<path d="M663.50 176.60L657.77 173.40" stroke="#6a7f90" stroke-width="0.8"/>
<path d="M663.50 176.60L663.50 183.20" stroke="#6a7f90" stroke-width="0.8"/>
<path d="M619.90 163.90L619.90 155.80" stroke="#6a7f90" stroke-width="0.8"/>
<path d="M641.30 163.90L641.30 155.80" stroke="#6a7f90" stroke-width="0.8"/>
<path d="M597.60 143.40 L602.97 146.50 L602.97 152.70 L597.60 155.80 L592.23 152.70 L592.23 146.50Z" fill="url(#hCyan)" stroke="#5d7a8e" stroke-width="1.0"/>
<path d="M619.90 143.40 L625.27 146.50 L625.27 152.70 L619.90 155.80 L614.53 152.70 L614.53 146.50Z" fill="url(#hCyan)" stroke="#5d7a8e" stroke-width="1.0"/>
<path d="M641.30 143.40 L646.67 146.50 L646.67 152.70 L641.30 155.80 L635.93 152.70 L635.93 146.50Z" fill="url(#hCyan)" stroke="#5d7a8e" stroke-width="1.0"/>
<path d="M663.50 143.40 L668.87 146.50 L668.87 152.70 L663.50 155.80 L658.13 152.70 L658.13 146.50Z" fill="url(#hCyan)" stroke="#5d7a8e" stroke-width="1.0"/>
<path d="M587.70 164.10 L593.07 167.20 L593.07 173.40 L587.70 176.50 L582.33 173.40 L582.33 167.20Z" fill="url(#hCyan)" stroke="#5d7a8e" stroke-width="1.0"/>
<path d="M608.40 164.10 L613.77 167.20 L613.77 173.40 L608.40 176.50 L603.03 173.40 L603.03 167.20Z" fill="url(#hCyan)" stroke="#5d7a8e" stroke-width="1.0"/>
<path d="M630.60 164.10 L635.97 167.20 L635.97 173.40 L630.60 176.50 L625.23 173.40 L625.23 167.20Z" fill="url(#hCyan)" stroke="#5d7a8e" stroke-width="1.0"/>
<path d="M652.40 164.10 L657.77 167.20 L657.77 173.40 L652.40 176.50 L647.03 173.40 L647.03 167.20Z" fill="url(#hCyan)" stroke="#5d7a8e" stroke-width="1.0"/>
<path d="M675.00 164.10 L680.37 167.20 L680.37 173.40 L675.00 176.50 L669.63 173.40 L669.63 167.20Z" fill="url(#hCyan)" stroke="#5d7a8e" stroke-width="1.0"/>
<path d="M597.60 183.20 L602.97 186.30 L602.97 192.50 L597.60 195.60 L592.23 192.50 L592.23 186.30Z" fill="url(#hCyan)" stroke="#5d7a8e" stroke-width="1.0"/>
<path d="M619.90 183.20 L625.27 186.30 L625.27 192.50 L619.90 195.60 L614.53 192.50 L614.53 186.30Z" fill="url(#hCyan)" stroke="#5d7a8e" stroke-width="1.0"/>
<path d="M641.30 183.20 L646.67 186.30 L646.67 192.50 L641.30 195.60 L635.93 192.50 L635.93 186.30Z" fill="url(#hCyan)" stroke="#5d7a8e" stroke-width="1.0"/>
<path d="M663.50 183.20 L668.87 186.30 L668.87 192.50 L663.50 195.60 L658.13 192.50 L658.13 186.30Z" fill="url(#hCyan)" stroke="#5d7a8e" stroke-width="1.0"/>
<circle cx="609.1" cy="157.2" r="2" fill="#fff"/>
<text x="609.10" y="159.54" font-size="6.5" text-anchor="middle" fill="#3a55f0" stroke="#3a55f0" stroke-width="0.2">N</text>
<circle cx="598.4" cy="176.6" r="2" fill="#fff"/>
<text x="598.40" y="178.94" font-size="6.5" text-anchor="middle" fill="#3a55f0" stroke="#3a55f0" stroke-width="0.2">N</text>
<circle cx="619.9" cy="176.6" r="2" fill="#fff"/>
<text x="619.90" y="178.94" font-size="6.5" text-anchor="middle" fill="#3a55f0" stroke="#3a55f0" stroke-width="0.2">N</text>
<circle cx="641.3" cy="176.6" r="2" fill="#fff"/>
<text x="641.30" y="178.94" font-size="6.5" text-anchor="middle" fill="#3a55f0" stroke="#3a55f0" stroke-width="0.2">N</text>
<circle cx="652.6" cy="157.2" r="2" fill="#fff"/>
<text x="652.60" y="159.54" font-size="6.5" text-anchor="middle" fill="#3a55f0" stroke="#3a55f0" stroke-width="0.2">N</text>
<circle cx="663.5" cy="176.6" r="2" fill="#fff"/>
<text x="663.50" y="178.94" font-size="6.5" text-anchor="middle" fill="#3a55f0" stroke="#3a55f0" stroke-width="0.2">N</text>
<circle cx="619.9" cy="163.9" r="2" fill="#fff"/>
<text x="619.90" y="166.24" font-size="6.5" text-anchor="middle" fill="#f04a5a" stroke="#f04a5a" stroke-width="0.2">B</text>
<circle cx="641.3" cy="163.9" r="2" fill="#fff"/>
<text x="641.30" y="166.24" font-size="6.5" text-anchor="middle" fill="#f04a5a" stroke="#f04a5a" stroke-width="0.2">B</text>
<text x="632.8" y="213.5" font-size="12.8" text-anchor="middle" fill="#111" stroke="#111" stroke-width="0.2"><tspan font-family="Liberation Serif" font-style="italic">ν</tspan>-DABNA</text></g>
<g id="pc"><text x="5.5" y="260.5" font-size="19" text-anchor="start" font-weight="bold" fill="#000"  stroke="#000" stroke-width="0.2">c</text>
<path d="M84.4 264.2H307.4" stroke="#e6e6e6" stroke-width="0.8"/>
<path d="M84.4 255.4V356.4H307.4" fill="none" stroke="#c8c8c8" stroke-width="0.8"/>
<path d="M84.4 356.4L13.6 447" stroke="#d0d0d0" stroke-width="0.8"/>
<path d="M31 343V422M67 296V377" stroke="#ececec" stroke-width="0.7" stroke-dasharray="1,1.5"/>
<polygon points="102.4,375.6 105.6,368 108,352 111.6,324 114,295 117.4,287 120.6,301 123.6,324.4 126.4,341.8 129.3,351.4 131.7,355.8 134.6,358.5 137.5,361 141,364 144,366.3 146.9,369 150.4,371.5 153.9,373.9 157.4,375 160.9,375.6 164.5,376 168,376.2 171.5,376.3 175,376.4 178.5,376.4 182,376.4 185.5,376.4 189,376.4 192.5,376.4 196,376.4 199.5,376.4 200,376.5 100,376.5" fill="url(#gSpec2)"/>
<pattern id="cb375" x="67" y="374.7" width="3" height="4.4" patternUnits="userSpaceOnUse"><rect width="3" height="4.4" fill="#4b8ef5"/><path d="M1.5 1.1L2.7 1.1L1.7 3.4L0.5 3.4Z" fill="#fff"/></pattern><rect x="67" y="374.7" width="222" height="4.4" fill="url(#cb375)"/>
<polyline points="102.4,375.6 105.6,368 108,352 111.6,324 114,295 117.4,287 120.6,301 123.6,324.4 126.4,341.8 129.3,351.4 131.7,355.8 134.6,358.5 137.5,361 141,364 144,366.3 146.9,369 150.4,371.5 153.9,373.9 157.4,375 160.9,375.6 164.5,376 168,376.2 171.5,376.3 175,376.4 178.5,376.4 182,376.4 185.5,376.4 189,376.4 192.5,376.4 196,376.4 199.5,376.4" fill="none" stroke="#4b8ef5" stroke-width="1.3"/>
<path d="M102.4 371.70L106.30 375.6L102.4 379.50L98.50 375.6Z" fill="#fff" stroke="#4b8ef5" stroke-width="1.1"/>
<path d="M105.6 364.10L109.50 368L105.6 371.90L101.70 368Z" fill="#fff" stroke="#4b8ef5" stroke-width="1.1"/>
<path d="M108 348.10L111.90 352L108 355.90L104.10 352Z" fill="#fff" stroke="#4b8ef5" stroke-width="1.1"/>
<path d="M111.6 320.10L115.50 324L111.6 327.90L107.70 324Z" fill="#fff" stroke="#4b8ef5" stroke-width="1.1"/>
<path d="M114 291.10L117.90 295L114 298.90L110.10 295Z" fill="#fff" stroke="#4b8ef5" stroke-width="1.1"/>
<path d="M117.4 283.10L121.30 287L117.4 290.90L113.50 287Z" fill="#fff" stroke="#4b8ef5" stroke-width="1.1"/>
<path d="M120.6 297.10L124.50 301L120.6 304.90L116.70 301Z" fill="#fff" stroke="#4b8ef5" stroke-width="1.1"/>
<path d="M123.6 320.50L127.50 324.4L123.6 328.30L119.70 324.4Z" fill="#fff" stroke="#4b8ef5" stroke-width="1.1"/>
<path d="M126.4 337.90L130.30 341.8L126.4 345.70L122.50 341.8Z" fill="#fff" stroke="#4b8ef5" stroke-width="1.1"/>
<path d="M129.3 347.50L133.20 351.4L129.3 355.30L125.40 351.4Z" fill="#fff" stroke="#4b8ef5" stroke-width="1.1"/>
<path d="M131.7 351.90L135.60 355.8L131.7 359.70L127.80 355.8Z" fill="#fff" stroke="#4b8ef5" stroke-width="1.1"/>
<path d="M134.6 354.60L138.50 358.5L134.6 362.40L130.70 358.5Z" fill="#fff" stroke="#4b8ef5" stroke-width="1.1"/>
<path d="M137.5 357.10L141.40 361L137.5 364.90L133.60 361Z" fill="#fff" stroke="#4b8ef5" stroke-width="1.1"/>
<path d="M141 360.10L144.90 364L141 367.90L137.10 364Z" fill="#fff" stroke="#4b8ef5" stroke-width="1.1"/>
<path d="M144 362.40L147.90 366.3L144 370.20L140.10 366.3Z" fill="#fff" stroke="#4b8ef5" stroke-width="1.1"/>
<path d="M146.9 365.10L150.80 369L146.9 372.90L143.00 369Z" fill="#fff" stroke="#4b8ef5" stroke-width="1.1"/>
<path d="M150.4 367.60L154.30 371.5L150.4 375.40L146.50 371.5Z" fill="#fff" stroke="#4b8ef5" stroke-width="1.1"/>
<path d="M153.9 370.00L157.80 373.9L153.9 377.80L150.00 373.9Z" fill="#fff" stroke="#4b8ef5" stroke-width="1.1"/>
<path d="M157.4 371.10L161.30 375L157.4 378.90L153.50 375Z" fill="#fff" stroke="#4b8ef5" stroke-width="1.1"/>
<path d="M160.9 371.70L164.80 375.6L160.9 379.50L157.00 375.6Z" fill="#fff" stroke="#4b8ef5" stroke-width="1.1"/>
<path d="M164.5 372.10L168.40 376L164.5 379.90L160.60 376Z" fill="#fff" stroke="#4b8ef5" stroke-width="1.1"/>
<path d="M168 372.30L171.90 376.2L168 380.10L164.10 376.2Z" fill="#fff" stroke="#4b8ef5" stroke-width="1.1"/>
<path d="M171.5 372.40L175.40 376.3L171.5 380.20L167.60 376.3Z" fill="#fff" stroke="#4b8ef5" stroke-width="1.1"/>
<path d="M175 372.50L178.90 376.4L175 380.30L171.10 376.4Z" fill="#fff" stroke="#4b8ef5" stroke-width="1.1"/>
<path d="M178.5 372.50L182.40 376.4L178.5 380.30L174.60 376.4Z" fill="#fff" stroke="#4b8ef5" stroke-width="1.1"/>
<path d="M182 372.50L185.90 376.4L182 380.30L178.10 376.4Z" fill="#fff" stroke="#4b8ef5" stroke-width="1.1"/>
<path d="M185.5 372.50L189.40 376.4L185.5 380.30L181.60 376.4Z" fill="#fff" stroke="#4b8ef5" stroke-width="1.1"/>
<path d="M189 372.50L192.90 376.4L189 380.30L185.10 376.4Z" fill="#fff" stroke="#4b8ef5" stroke-width="1.1"/>
<path d="M192.5 372.50L196.40 376.4L192.5 380.30L188.60 376.4Z" fill="#fff" stroke="#4b8ef5" stroke-width="1.1"/>
<path d="M196 372.50L199.90 376.4L196 380.30L192.10 376.4Z" fill="#fff" stroke="#4b8ef5" stroke-width="1.1"/>
<path d="M199.5 372.50L203.40 376.4L199.5 380.30L195.60 376.4Z" fill="#fff" stroke="#4b8ef5" stroke-width="1.1"/>
<polygon points="66.4,421.8 69.9,415.5 72.4,400.6 75.8,374.2 78.4,343.6 81.4,332.4 84.6,344.4 87.4,368 90.4,387 93.6,398 96.5,403 99.4,406 102.3,409 105.3,411 108.2,413.3 111,415.2 114,417 117.7,418.4 121.3,419.9 125.7,421 129.5,421.5 133,421.8 136.5,422 140,422.1 143.5,422.2 147,422.2 150.5,422.3 154,422.3 157.5,422.3 161,422.3 164.5,422.3 165,422.5 62,422.5" fill="url(#gSpec1)"/>
<pattern id="cb421" x="31" y="420.7" width="2.9" height="4" patternUnits="userSpaceOnUse"><rect width="2.9" height="1.4" fill="#3d4ef5"/><path d="M0.9 1.2L2.1 1.2L1.5 4L0.3 4Z" fill="#3d4ef5"/></pattern><rect x="31" y="420.7" width="223" height="4" fill="url(#cb421)"/>
<polyline points="66.4,421.8 69.9,415.5 72.4,400.6 75.8,374.2 78.4,343.6 81.4,332.4 84.6,344.4 87.4,368 90.4,387 93.6,398 96.5,403 99.4,406 102.3,409 105.3,411 108.2,413.3 111,415.2 114,417 117.7,418.4 121.3,419.9 125.7,421 129.5,421.5 133,421.8 136.5,422 140,422.1 143.5,422.2 147,422.2 150.5,422.3 154,422.3 157.5,422.3 161,422.3 164.5,422.3" fill="none" stroke="#3d4ef5" stroke-width="1.3"/>
<circle cx="66.4" cy="421.8" r="3.0" fill="#fff" stroke="#3d4ef5" stroke-width="1.1"/>
<circle cx="69.9" cy="415.5" r="3.0" fill="#fff" stroke="#3d4ef5" stroke-width="1.1"/>
<circle cx="72.4" cy="400.6" r="3.0" fill="#fff" stroke="#3d4ef5" stroke-width="1.1"/>
<circle cx="75.8" cy="374.2" r="3.0" fill="#fff" stroke="#3d4ef5" stroke-width="1.1"/>
<circle cx="78.4" cy="343.6" r="3.0" fill="#fff" stroke="#3d4ef5" stroke-width="1.1"/>
<circle cx="81.4" cy="332.4" r="3.0" fill="#fff" stroke="#3d4ef5" stroke-width="1.1"/>
<circle cx="84.6" cy="344.4" r="3.0" fill="#fff" stroke="#3d4ef5" stroke-width="1.1"/>
<circle cx="87.4" cy="368" r="3.0" fill="#fff" stroke="#3d4ef5" stroke-width="1.1"/>
<circle cx="90.4" cy="387" r="3.0" fill="#fff" stroke="#3d4ef5" stroke-width="1.1"/>
<circle cx="93.6" cy="398" r="3.0" fill="#fff" stroke="#3d4ef5" stroke-width="1.1"/>
<circle cx="96.5" cy="403" r="3.0" fill="#fff" stroke="#3d4ef5" stroke-width="1.1"/>
<circle cx="99.4" cy="406" r="3.0" fill="#fff" stroke="#3d4ef5" stroke-width="1.1"/>
<circle cx="102.3" cy="409" r="3.0" fill="#fff" stroke="#3d4ef5" stroke-width="1.1"/>
<circle cx="105.3" cy="411" r="3.0" fill="#fff" stroke="#3d4ef5" stroke-width="1.1"/>
<circle cx="108.2" cy="413.3" r="3.0" fill="#fff" stroke="#3d4ef5" stroke-width="1.1"/>
<circle cx="111" cy="415.2" r="3.0" fill="#fff" stroke="#3d4ef5" stroke-width="1.1"/>
<circle cx="114" cy="417" r="3.0" fill="#fff" stroke="#3d4ef5" stroke-width="1.1"/>
<circle cx="117.7" cy="418.4" r="3.0" fill="#fff" stroke="#3d4ef5" stroke-width="1.1"/>
<circle cx="121.3" cy="419.9" r="3.0" fill="#fff" stroke="#3d4ef5" stroke-width="1.1"/>
<circle cx="125.7" cy="421" r="3.0" fill="#fff" stroke="#3d4ef5" stroke-width="1.1"/>
<circle cx="129.5" cy="421.5" r="3.0" fill="#fff" stroke="#3d4ef5" stroke-width="1.1"/>
<circle cx="133" cy="421.8" r="3.0" fill="#fff" stroke="#3d4ef5" stroke-width="1.1"/>
<circle cx="136.5" cy="422" r="3.0" fill="#fff" stroke="#3d4ef5" stroke-width="1.1"/>
<circle cx="140" cy="422.1" r="3.0" fill="#fff" stroke="#3d4ef5" stroke-width="1.1"/>
<circle cx="143.5" cy="422.2" r="3.0" fill="#fff" stroke="#3d4ef5" stroke-width="1.1"/>
<circle cx="147" cy="422.2" r="3.0" fill="#fff" stroke="#3d4ef5" stroke-width="1.1"/>
<circle cx="150.5" cy="422.3" r="3.0" fill="#fff" stroke="#3d4ef5" stroke-width="1.1"/>
<circle cx="154" cy="422.3" r="3.0" fill="#fff" stroke="#3d4ef5" stroke-width="1.1"/>
<circle cx="157.5" cy="422.3" r="3.0" fill="#fff" stroke="#3d4ef5" stroke-width="1.1"/>
<circle cx="161" cy="422.3" r="3.0" fill="#fff" stroke="#3d4ef5" stroke-width="1.1"/>
<circle cx="164.5" cy="422.3" r="3.0" fill="#fff" stroke="#3d4ef5" stroke-width="1.1"/>
<path d="M13.6 345.6L84.4 255.4H307.4V356.4L236 447H13.6Z" fill="none" stroke="#555" stroke-width="1"/>
<path d="M13.6 345.6V447" stroke="#555" stroke-width="1"/>
<text x="16" y="462.4" font-size="14.5" text-anchor="middle" font-weight="normal" fill="#111"  stroke="#111" stroke-width="0.2">400</text>
<text x="90.7" y="462.4" font-size="14.5" text-anchor="middle" font-weight="normal" fill="#111"  stroke="#111" stroke-width="0.2">500</text>
<text x="164.7" y="462.4" font-size="14.5" text-anchor="middle" font-weight="normal" fill="#111"  stroke="#111" stroke-width="0.2">600</text>
<text x="239.4" y="462.4" font-size="14.5" text-anchor="middle" font-weight="normal" fill="#111"  stroke="#111" stroke-width="0.2">700</text>
<text x="126.2" y="476.4" font-size="15" text-anchor="middle" font-weight="normal" fill="#111"  stroke="#111" stroke-width="0.2">Wavelength (nm)</text>
<text x="312" y="268.4" font-size="13.5" text-anchor="start" font-weight="normal" fill="#111"  stroke="#111" stroke-width="0.2">1</text>
<text x="311" y="360.3" font-size="13.5" text-anchor="start" font-weight="normal" fill="#111"  stroke="#111" stroke-width="0.2">0</text>
<text transform="translate(329.8,304) rotate(-90)" x="0" y="5.40" font-size="15" text-anchor="middle" font-weight="normal" fill="#111"  stroke="#111" stroke-width="0.2">EL intensity (a.u.)</text>
<text x="110" y="394.4" font-size="15.9" text-anchor="start" font-weight="bold" fill="#4b8ef5"  stroke="#4b8ef5" stroke-width="0.2">FWHM = 19 nm</text>
<text x="90.4" y="438.8" font-size="15.9" text-anchor="start" font-weight="bold" fill="#3d4ef5"  stroke="#3d4ef5" stroke-width="0.2">FWHM = 18 nm</text>
<text x="263.5" y="395.2" font-size="15.7" text-anchor="start" font-weight="bold" fill="#4b8ef5"  stroke="#4b8ef5" stroke-width="0.2">2BOCzSi</text>
<text x="244.5" y="441.3" font-size="16" text-anchor="start" font-weight="bold" fill="#3d4ef5"  stroke="#3d4ef5" stroke-width="0.2">BOCzSi</text>
<rect x="243.2" y="347.2" width="33.3" height="32.4" fill="url(#gDev)"/>
<rect x="252.2" y="356.2" width="16" height="17" fill="none" stroke="#8fb8ff" stroke-width="0.7" stroke-dasharray="1.5,2" opacity="0.6"/>
<rect x="199.5" y="396" width="33.3" height="32.4" fill="url(#gDev)"/>
<rect x="208.5" y="405" width="16" height="17" fill="none" stroke="#8fb8ff" stroke-width="0.7" stroke-dasharray="1.5,2" opacity="0.6"/>
<path d="M158.6 257V333H255.6" fill="none" stroke="#333" stroke-width="0.8"/>
<path d="M158.6 333V331 M175.2 333V331 M191.8 333V331 M208.4 333V331 M225.0 333V331 M241.6 333V331 M158.6 332.5H160.6 M158.6 315.5H160.6 M158.6 298.5H160.6 M158.6 281.5H160.6 M158.6 264.5H160.6" stroke="#333" stroke-width="0.7"/>
<text x="158.6" y="343" font-size="8.5" text-anchor="middle" font-weight="normal" fill="#222"  stroke="#222" stroke-width="0.2">0.0</text>
<text x="175.2" y="343" font-size="8.5" text-anchor="middle" font-weight="normal" fill="#222"  stroke="#222" stroke-width="0.2">0.1</text>
<text x="191.8" y="343" font-size="8.5" text-anchor="middle" font-weight="normal" fill="#222"  stroke="#222" stroke-width="0.2">0.2</text>
<text x="208.4" y="343" font-size="8.5" text-anchor="middle" font-weight="normal" fill="#222"  stroke="#222" stroke-width="0.2">0.3</text>
<text x="225.0" y="343" font-size="8.5" text-anchor="middle" font-weight="normal" fill="#222"  stroke="#222" stroke-width="0.2">0.4</text>
<text x="241.6" y="343" font-size="8.5" text-anchor="middle" font-weight="normal" fill="#222"  stroke="#222" stroke-width="0.2">0.5</text>
<text x="156" y="335.5" font-size="8.5" text-anchor="end" font-weight="normal" fill="#222"  stroke="#222" stroke-width="0.2">0.0</text>
<text x="156" y="318.5" font-size="8.5" text-anchor="end" font-weight="normal" fill="#222"  stroke="#222" stroke-width="0.2">0.1</text>
<text x="156" y="301.5" font-size="8.5" text-anchor="end" font-weight="normal" fill="#222"  stroke="#222" stroke-width="0.2">0.2</text>
<text x="156" y="284.5" font-size="8.5" text-anchor="end" font-weight="normal" fill="#222"  stroke="#222" stroke-width="0.2">0.3</text>
<text x="156" y="267.5" font-size="8.5" text-anchor="end" font-weight="normal" fill="#222"  stroke="#222" stroke-width="0.2">0.4</text>
<text x="199" y="350" font-size="8.5" text-anchor="middle" font-weight="bold" fill="#222"  stroke="#222" stroke-width="0.2">x</text>
<text transform="translate(139,303) rotate(-90)" x="0" y="3.06" font-size="8.5" text-anchor="middle" font-weight="bold" fill="#222"  stroke="#222" stroke-width="0.2">y</text></g>
<g id="pd"><text x="361" y="260" font-size="19" text-anchor="start" font-weight="bold" fill="#000"  stroke="#000" stroke-width="0.2">d</text>
<rect x="407.5" y="254.6" width="231.0" height="185.70000000000002" fill="url(#gD_bg)"/>
<path d="M407.50 440.3V443.8 M428.46 440.3V443.8 M449.42 440.3V443.8 M470.38 440.3V443.8 M491.34 440.3V443.8 M512.30 440.3V443.8 M533.26 440.3V443.8 M554.22 440.3V443.8 M575.18 440.3V443.8 M596.14 440.3V443.8 M617.10 440.3V443.8 M638.06 440.3V443.8 M417.98 440.3V442.3 M438.94 440.3V442.3 M459.90 440.3V442.3 M480.86 440.3V442.3 M501.82 440.3V442.3 M522.78 440.3V442.3 M543.74 440.3V442.3 M564.70 440.3V442.3 M585.66 440.3V442.3 M606.62 440.3V442.3 M627.58 440.3V442.3 M407.5 436.40H404.0 M407.5 400.04H404.0 M407.5 363.68H404.0 M407.5 327.32H404.0 M407.5 290.96H404.0 M407.5 254.60H404.0 M407.5 418.22H405.5 M407.5 381.86H405.5 M407.5 345.50H405.5 M407.5 309.14H405.5 M407.5 272.78H405.5 M638.5 440.30H642.0 M638.5 405.50H642.0 M638.5 370.70H642.0 M638.5 335.90H642.0 M638.5 301.10H642.0 M638.5 266.30H642.0 M638.5 429.82H640.5 M638.5 423.70H640.5 M638.5 419.35H640.5 M638.5 415.98H640.5 M638.5 413.22H640.5 M638.5 410.89H640.5 M638.5 408.87H640.5 M638.5 407.09H640.5 M638.5 395.02H640.5 M638.5 388.90H640.5 M638.5 384.55H640.5 M638.5 381.18H640.5 M638.5 378.42H640.5 M638.5 376.09H640.5 M638.5 374.07H640.5 M638.5 372.29H640.5 M638.5 360.22H640.5 M638.5 354.10H640.5 M638.5 349.75H640.5 M638.5 346.38H640.5 M638.5 343.62H640.5 M638.5 341.29H640.5 M638.5 339.27H640.5 M638.5 337.49H640.5 M638.5 325.42H640.5 M638.5 319.30H640.5 M638.5 314.95H640.5 M638.5 311.58H640.5 M638.5 308.82H640.5 M638.5 306.49H640.5 M638.5 304.47H640.5 M638.5 302.69H640.5 M638.5 290.62H640.5 M638.5 284.50H640.5 M638.5 280.15H640.5 M638.5 276.78H640.5 M638.5 274.02H640.5 M638.5 271.69H640.5 M638.5 269.67H640.5 M638.5 267.89H640.5" stroke="#333" stroke-width="0.8"/>
<path d="M407.5 254.6H638.5V440.3" fill="none" stroke="#8a8a8a" stroke-width="1"/>
<path d="M407.5 254.6V440.3H638.5" fill="none" stroke="#333" stroke-width="1"/>
<text x="407.5" y="458" font-size="14" text-anchor="middle" font-weight="normal" fill="#111"  stroke="#111" stroke-width="0.2">3</text>
<text x="428.46" y="458" font-size="14" text-anchor="middle" font-weight="normal" fill="#111"  stroke="#111" stroke-width="0.2">4</text>
<text x="449.42" y="458" font-size="14" text-anchor="middle" font-weight="normal" fill="#111"  stroke="#111" stroke-width="0.2">5</text>
<text x="470.38" y="458" font-size="14" text-anchor="middle" font-weight="normal" fill="#111"  stroke="#111" stroke-width="0.2">6</text>
<text x="491.34" y="458" font-size="14" text-anchor="middle" font-weight="normal" fill="#111"  stroke="#111" stroke-width="0.2">7</text>
<text x="512.3" y="458" font-size="14" text-anchor="middle" font-weight="normal" fill="#111"  stroke="#111" stroke-width="0.2">8</text>
<text x="533.26" y="458" font-size="14" text-anchor="middle" font-weight="normal" fill="#111"  stroke="#111" stroke-width="0.2">9</text>
<text x="554.22" y="458" font-size="14" text-anchor="middle" font-weight="normal" fill="#111"  stroke="#111" stroke-width="0.2">10</text>
<text x="575.18" y="458" font-size="14" text-anchor="middle" font-weight="normal" fill="#111"  stroke="#111" stroke-width="0.2">11</text>
<text x="596.14" y="458" font-size="14" text-anchor="middle" font-weight="normal" fill="#111"  stroke="#111" stroke-width="0.2">12</text>
<text x="617.1" y="458" font-size="14" text-anchor="middle" font-weight="normal" fill="#111"  stroke="#111" stroke-width="0.2">13</text>
<text x="638.06" y="458" font-size="14" text-anchor="middle" font-weight="normal" fill="#111"  stroke="#111" stroke-width="0.2">14</text>
<text x="401.3" y="441.4" font-size="14" text-anchor="end" font-weight="normal" fill="#111"  stroke="#111" stroke-width="0.2">0</text>
<text x="401.3" y="405.04" font-size="14" text-anchor="end" font-weight="normal" fill="#111"  stroke="#111" stroke-width="0.2">100</text>
<text x="401.3" y="368.68" font-size="14" text-anchor="end" font-weight="normal" fill="#111"  stroke="#111" stroke-width="0.2">200</text>
<text x="401.3" y="332.32" font-size="14" text-anchor="end" font-weight="normal" fill="#111"  stroke="#111" stroke-width="0.2">300</text>
<text x="401.3" y="295.96" font-size="14" text-anchor="end" font-weight="normal" fill="#111"  stroke="#111" stroke-width="0.2">400</text>
<text x="401.3" y="259.6" font-size="14" text-anchor="end" font-weight="normal" fill="#111"  stroke="#111" stroke-width="0.2">500</text>
<text x="644.8" y="445.3" font-size="14" text-anchor="start" fill="#111" stroke="#111" stroke-width="0.2">10<tspan font-size="9.5" dy="-5.9">0</tspan></text>
<text x="644.8" y="410.5" font-size="14" text-anchor="start" fill="#111" stroke="#111" stroke-width="0.2">10<tspan font-size="9.5" dy="-5.9">1</tspan></text>
<text x="644.8" y="375.7" font-size="14" text-anchor="start" fill="#111" stroke="#111" stroke-width="0.2">10<tspan font-size="9.5" dy="-5.9">2</tspan></text>
<text x="644.8" y="340.9" font-size="14" text-anchor="start" fill="#111" stroke="#111" stroke-width="0.2">10<tspan font-size="9.5" dy="-5.9">3</tspan></text>
<text x="644.8" y="306.1" font-size="14" text-anchor="start" fill="#111" stroke="#111" stroke-width="0.2">10<tspan font-size="9.5" dy="-5.9">4</tspan></text>
<text x="644.8" y="271.3" font-size="14" text-anchor="start" fill="#111" stroke="#111" stroke-width="0.2">10<tspan font-size="9.5" dy="-5.9">5</tspan></text>
<text x="522.7" y="477.6" font-size="14" text-anchor="middle" font-weight="normal" fill="#111"  stroke="#111" stroke-width="0.2">Voltage (V)</text>
<text transform="translate(368.5,343.2) rotate(-90)" x="0" y="4.9" font-size="13.7" text-anchor="middle" fill="#111" stroke="#111" stroke-width="0.2">Current Density (mA cm<tspan font-size="9" dy="-5">-2</tspan><tspan dy="5">)</tspan></text>
<text transform="translate(676.2,340.5) rotate(-90)" x="0" y="5" font-size="14.2" text-anchor="middle" fill="#111" stroke="#111" stroke-width="0.2">Luminance (cd m<tspan font-size="9" dy="-5">-2</tspan><tspan dy="5">)</tspan></text>
<polyline points="420.4,422.3 430.9,395.7 441.4,378.9 451.8,367.2 462.3,356.8 472.8,348.2 483.3,340.8 493.8,334.0 504.2,328.0 514.7,323.6 525.2,319.6 535.7,315.6 546.2,312.4 556.6,310.0 567.1,307.0 577.6,305.0 588.1,303.0 598.6,301.6 609.0,301.0 619.5,300.4" fill="none" stroke="#4b8ef5" stroke-width="1.2"/>
<path d="M420.4 418.40L424.30 422.3L420.4 426.20L416.50 422.3Z" fill="#fff" stroke="#4b8ef5" stroke-width="1.15"/>
<path d="M430.9 391.80L434.80 395.7L430.9 399.60L427.00 395.7Z" fill="#fff" stroke="#4b8ef5" stroke-width="1.15"/>
<path d="M441.4 375.00L445.30 378.9L441.4 382.80L437.50 378.9Z" fill="#fff" stroke="#4b8ef5" stroke-width="1.15"/>
<path d="M451.8 363.30L455.70 367.2L451.8 371.10L447.90 367.2Z" fill="#fff" stroke="#4b8ef5" stroke-width="1.15"/>
<path d="M462.3 352.90L466.20 356.8L462.3 360.70L458.40 356.8Z" fill="#fff" stroke="#4b8ef5" stroke-width="1.15"/>
<path d="M472.8 344.30L476.70 348.2L472.8 352.10L468.90 348.2Z" fill="#fff" stroke="#4b8ef5" stroke-width="1.15"/>
<path d="M483.3 336.90L487.20 340.8L483.3 344.70L479.40 340.8Z" fill="#fff" stroke="#4b8ef5" stroke-width="1.15"/>
<path d="M493.8 330.10L497.70 334L493.8 337.90L489.90 334Z" fill="#fff" stroke="#4b8ef5" stroke-width="1.15"/>
<path d="M504.2 324.10L508.10 328L504.2 331.90L500.30 328Z" fill="#fff" stroke="#4b8ef5" stroke-width="1.15"/>
<path d="M514.7 319.70L518.60 323.6L514.7 327.50L510.80 323.6Z" fill="#fff" stroke="#4b8ef5" stroke-width="1.15"/>
<path d="M525.2 315.70L529.10 319.6L525.2 323.50L521.30 319.6Z" fill="#fff" stroke="#4b8ef5" stroke-width="1.15"/>
<path d="M535.7 311.70L539.60 315.6L535.7 319.50L531.80 315.6Z" fill="#fff" stroke="#4b8ef5" stroke-width="1.15"/>
<path d="M546.2 308.50L550.10 312.4L546.2 316.30L542.30 312.4Z" fill="#fff" stroke="#4b8ef5" stroke-width="1.15"/>
<path d="M556.6 306.10L560.50 310L556.6 313.90L552.70 310Z" fill="#fff" stroke="#4b8ef5" stroke-width="1.15"/>
<path d="M567.1 303.10L571.00 307L567.1 310.90L563.20 307Z" fill="#fff" stroke="#4b8ef5" stroke-width="1.15"/>
<path d="M577.6 301.10L581.50 305L577.6 308.90L573.70 305Z" fill="#fff" stroke="#4b8ef5" stroke-width="1.15"/>
<path d="M588.1 299.10L592.00 303L588.1 306.90L584.20 303Z" fill="#fff" stroke="#4b8ef5" stroke-width="1.15"/>
<path d="M598.6 297.70L602.50 301.6L598.6 305.50L594.70 301.6Z" fill="#fff" stroke="#4b8ef5" stroke-width="1.15"/>
<path d="M609.0 297.10L612.90 301L609.0 304.90L605.10 301Z" fill="#fff" stroke="#4b8ef5" stroke-width="1.15"/>
<path d="M619.5 296.50L623.40 300.4L619.5 304.30L615.60 300.4Z" fill="#fff" stroke="#4b8ef5" stroke-width="1.15"/>
<polyline points="420.4,436.4 430.9,436.4 441.4,436.3 451.8,436.3 462.3,436.2 472.8,435.8 483.3,435.4 493.8,434.7 504.2,434.0 514.7,432.5 525.2,430.6 535.7,428.4 546.2,425.5 556.6,422.0 567.1,416.8 577.6,410.7 588.1,401.4 598.6,390.8 609.0,378.9 619.5,364.0" fill="none" stroke="#4b8ef5" stroke-width="1.2"/>
<path d="M420.4 432.50L424.30 436.4L420.4 440.30L416.50 436.4Z" fill="#fff" stroke="#4b8ef5" stroke-width="1.15"/>
<path d="M430.9 432.50L434.80 436.4L430.9 440.30L427.00 436.4Z" fill="#fff" stroke="#4b8ef5" stroke-width="1.15"/>
<path d="M441.4 432.40L445.30 436.3L441.4 440.20L437.50 436.3Z" fill="#fff" stroke="#4b8ef5" stroke-width="1.15"/>
<path d="M451.8 432.40L455.70 436.3L451.8 440.20L447.90 436.3Z" fill="#fff" stroke="#4b8ef5" stroke-width="1.15"/>
<path d="M462.3 432.30L466.20 436.2L462.3 440.10L458.40 436.2Z" fill="#fff" stroke="#4b8ef5" stroke-width="1.15"/>
<path d="M472.8 431.90L476.70 435.8L472.8 439.70L468.90 435.8Z" fill="#fff" stroke="#4b8ef5" stroke-width="1.15"/>
<path d="M483.3 431.50L487.20 435.4L483.3 439.30L479.40 435.4Z" fill="#fff" stroke="#4b8ef5" stroke-width="1.15"/>
<path d="M493.8 430.80L497.70 434.7L493.8 438.60L489.90 434.7Z" fill="#fff" stroke="#4b8ef5" stroke-width="1.15"/>
<path d="M504.2 430.10L508.10 434L504.2 437.90L500.30 434Z" fill="#fff" stroke="#4b8ef5" stroke-width="1.15"/>
<path d="M514.7 428.60L518.60 432.5L514.7 436.40L510.80 432.5Z" fill="#fff" stroke="#4b8ef5" stroke-width="1.15"/>
<path d="M525.2 426.70L529.10 430.6L525.2 434.50L521.30 430.6Z" fill="#fff" stroke="#4b8ef5" stroke-width="1.15"/>
<path d="M535.7 424.50L539.60 428.4L535.7 432.30L531.80 428.4Z" fill="#fff" stroke="#4b8ef5" stroke-width="1.15"/>
<path d="M546.2 421.60L550.10 425.5L546.2 429.40L542.30 425.5Z" fill="#fff" stroke="#4b8ef5" stroke-width="1.15"/>
<path d="M556.6 418.10L560.50 422L556.6 425.90L552.70 422Z" fill="#fff" stroke="#4b8ef5" stroke-width="1.15"/>
<path d="M567.1 412.90L571.00 416.8L567.1 420.70L563.20 416.8Z" fill="#fff" stroke="#4b8ef5" stroke-width="1.15"/>
<path d="M577.6 406.80L581.50 410.7L577.6 414.60L573.70 410.7Z" fill="#fff" stroke="#4b8ef5" stroke-width="1.15"/>
<path d="M588.1 397.50L592.00 401.4L588.1 405.30L584.20 401.4Z" fill="#fff" stroke="#4b8ef5" stroke-width="1.15"/>
<path d="M598.6 386.90L602.50 390.8L598.6 394.70L594.70 390.8Z" fill="#fff" stroke="#4b8ef5" stroke-width="1.15"/>
<path d="M609.0 375.00L612.90 378.9L609.0 382.80L605.10 378.9Z" fill="#fff" stroke="#4b8ef5" stroke-width="1.15"/>
<path d="M619.5 360.10L623.40 364L619.5 367.90L615.60 364Z" fill="#fff" stroke="#4b8ef5" stroke-width="1.15"/>
<polyline points="415.7,427.7 426.3,392.2 436.7,374.8 447.4,361.0 457.6,350.2 468.3,341.6 478.4,333.0 489.0,327.0 499.6,321.6 510.0,317.0 520.4,313.4 531.0,310.0 541.4,306.6 552.0,303.6 562.4,300.0 573.0,296.6 583.4,292.6 594.0,288.4 604.4,286.4" fill="none" stroke="#3d4ef5" stroke-width="1.2"/>
<circle cx="415.7" cy="427.7" r="3.2" fill="#fff" stroke="#3d4ef5" stroke-width="1.15"/>
<circle cx="426.3" cy="392.2" r="3.2" fill="#fff" stroke="#3d4ef5" stroke-width="1.15"/>
<circle cx="436.7" cy="374.8" r="3.2" fill="#fff" stroke="#3d4ef5" stroke-width="1.15"/>
<circle cx="447.4" cy="361" r="3.2" fill="#fff" stroke="#3d4ef5" stroke-width="1.15"/>
<circle cx="457.6" cy="350.2" r="3.2" fill="#fff" stroke="#3d4ef5" stroke-width="1.15"/>
<circle cx="468.3" cy="341.6" r="3.2" fill="#fff" stroke="#3d4ef5" stroke-width="1.15"/>
<circle cx="478.4" cy="333" r="3.2" fill="#fff" stroke="#3d4ef5" stroke-width="1.15"/>
<circle cx="489" cy="327" r="3.2" fill="#fff" stroke="#3d4ef5" stroke-width="1.15"/>
<circle cx="499.6" cy="321.6" r="3.2" fill="#fff" stroke="#3d4ef5" stroke-width="1.15"/>
<circle cx="510" cy="317" r="3.2" fill="#fff" stroke="#3d4ef5" stroke-width="1.15"/>
<circle cx="520.4" cy="313.4" r="3.2" fill="#fff" stroke="#3d4ef5" stroke-width="1.15"/>
<circle cx="531" cy="310" r="3.2" fill="#fff" stroke="#3d4ef5" stroke-width="1.15"/>
<circle cx="541.4" cy="306.6" r="3.2" fill="#fff" stroke="#3d4ef5" stroke-width="1.15"/>
<circle cx="552" cy="303.6" r="3.2" fill="#fff" stroke="#3d4ef5" stroke-width="1.15"/>
<circle cx="562.4" cy="300" r="3.2" fill="#fff" stroke="#3d4ef5" stroke-width="1.15"/>
<circle cx="573" cy="296.6" r="3.2" fill="#fff" stroke="#3d4ef5" stroke-width="1.15"/>
<circle cx="583.4" cy="292.6" r="3.2" fill="#fff" stroke="#3d4ef5" stroke-width="1.15"/>
<circle cx="594" cy="288.4" r="3.2" fill="#fff" stroke="#3d4ef5" stroke-width="1.15"/>
<circle cx="604.4" cy="286.4" r="3.2" fill="#fff" stroke="#3d4ef5" stroke-width="1.15"/>
<polyline points="415.7,436.3 426.2,436.3 436.7,436.3 447.1,436.2 457.6,436.2 468.1,436.1 478.6,435.4 489.1,434.3 499.5,432.5 510.0,430.8 520.5,428.6 531.0,425.3 541.5,421.6 551.9,416.2 562.4,408.5 572.9,398.0 583.4,382.4 593.9,358.4 604.3,325.0" fill="none" stroke="#3d4ef5" stroke-width="1.2"/>
<circle cx="415.7" cy="436.3" r="3.2" fill="#fff" stroke="#3d4ef5" stroke-width="1.15"/>
<circle cx="426.2" cy="436.3" r="3.2" fill="#fff" stroke="#3d4ef5" stroke-width="1.15"/>
<circle cx="436.7" cy="436.3" r="3.2" fill="#fff" stroke="#3d4ef5" stroke-width="1.15"/>
<circle cx="447.1" cy="436.2" r="3.2" fill="#fff" stroke="#3d4ef5" stroke-width="1.15"/>
<circle cx="457.6" cy="436.2" r="3.2" fill="#fff" stroke="#3d4ef5" stroke-width="1.15"/>
<circle cx="468.1" cy="436.1" r="3.2" fill="#fff" stroke="#3d4ef5" stroke-width="1.15"/>
<circle cx="478.6" cy="435.4" r="3.2" fill="#fff" stroke="#3d4ef5" stroke-width="1.15"/>
<circle cx="489.1" cy="434.3" r="3.2" fill="#fff" stroke="#3d4ef5" stroke-width="1.15"/>
<circle cx="499.5" cy="432.5" r="3.2" fill="#fff" stroke="#3d4ef5" stroke-width="1.15"/>
<circle cx="510.0" cy="430.8" r="3.2" fill="#fff" stroke="#3d4ef5" stroke-width="1.15"/>
<circle cx="520.5" cy="428.6" r="3.2" fill="#fff" stroke="#3d4ef5" stroke-width="1.15"/>
<circle cx="531.0" cy="425.3" r="3.2" fill="#fff" stroke="#3d4ef5" stroke-width="1.15"/>
<circle cx="541.5" cy="421.6" r="3.2" fill="#fff" stroke="#3d4ef5" stroke-width="1.15"/>
<circle cx="551.9" cy="416.2" r="3.2" fill="#fff" stroke="#3d4ef5" stroke-width="1.15"/>
<circle cx="562.4" cy="408.5" r="3.2" fill="#fff" stroke="#3d4ef5" stroke-width="1.15"/>
<circle cx="572.9" cy="398" r="3.2" fill="#fff" stroke="#3d4ef5" stroke-width="1.15"/>
<circle cx="583.4" cy="382.4" r="3.2" fill="#fff" stroke="#3d4ef5" stroke-width="1.15"/>
<circle cx="593.9" cy="358.4" r="3.2" fill="#fff" stroke="#3d4ef5" stroke-width="1.15"/>
<circle cx="604.3" cy="325" r="3.2" fill="#fff" stroke="#3d4ef5" stroke-width="1.15"/>
<ellipse cx="478" cy="341.5" rx="11.5" ry="14.8" fill="none" stroke="#111" stroke-width="0.9"/>
<path d="M478 355.7H497" stroke="#111" stroke-width="0.9"/><path d="M501 355.7L495.5 353.6V357.8Z" fill="#111"/>
<ellipse cx="574.6" cy="405.1" rx="11.3" ry="15.3" fill="none" stroke="#111" stroke-width="0.9"/>
<path d="M577 389.8H556" stroke="#111" stroke-width="0.9"/><path d="M551.5 389.8L557 387.7V391.9Z" fill="#111"/>
<path d="M408 263.4H439" stroke="#3d4ef5" stroke-width="1.2"/>
<circle cx="423.6" cy="263.4" r="3.2" fill="#fff" stroke="#3d4ef5" stroke-width="1.15"/>
<path d="M408 280.6H439" stroke="#4b8ef5" stroke-width="1.2"/>
<path d="M423.6 276.70L427.50 280.6L423.6 284.50L419.70 280.6Z" fill="#fff" stroke="#4b8ef5" stroke-width="1.15"/>
<text x="443.6" y="268" font-size="14" fill="#111" stroke="#111" stroke-width="0.2"><tspan font-weight="bold">BOCzSi</tspan> : 3% <tspan font-family="Liberation Serif" font-style="italic">ν</tspan>-DABNA</text>
<text x="443.6" y="285.3" font-size="14" fill="#111" stroke="#111" stroke-width="0.2"><tspan font-weight="bold">2BOCzSi</tspan> : 3% <tspan font-family="Liberation Serif" font-style="italic">ν</tspan>-DABNA</text></g>
<g id="pe"><text x="5" y="517" font-size="19" text-anchor="start" font-weight="bold" fill="#000"  stroke="#000" stroke-width="0.2">e</text>
<rect x="46.4" y="508.8" width="266.1" height="86.80000000000001" fill="url(#gE_bg)"/>
<path d="M46.40 595.6V598.6 M105.90 595.6V598.6 M165.40 595.6V598.6 M224.90 595.6V598.6 M284.40 595.6V598.6 M64.31 595.6V597.4 M74.79 595.6V597.4 M82.22 595.6V597.4 M87.99 595.6V597.4 M92.70 595.6V597.4 M96.68 595.6V597.4 M100.13 595.6V597.4 M103.18 595.6V597.4 M123.81 595.6V597.4 M134.29 595.6V597.4 M141.72 595.6V597.4 M147.49 595.6V597.4 M152.20 595.6V597.4 M156.18 595.6V597.4 M159.63 595.6V597.4 M162.68 595.6V597.4 M183.31 595.6V597.4 M193.79 595.6V597.4 M201.22 595.6V597.4 M206.99 595.6V597.4 M211.70 595.6V597.4 M215.68 595.6V597.4 M219.13 595.6V597.4 M222.18 595.6V597.4 M242.81 595.6V597.4 M253.29 595.6V597.4 M260.72 595.6V597.4 M266.49 595.6V597.4 M271.20 595.6V597.4 M275.18 595.6V597.4 M278.63 595.6V597.4 M281.68 595.6V597.4 M302.31 595.6V597.4 M46.4 595.60H43.4 M46.4 566.67H43.4 M46.4 537.73H43.4 M46.4 508.80H43.4 M46.4 586.89H44.6 M46.4 581.80H44.6 M46.4 578.18H44.6 M46.4 575.38H44.6 M46.4 573.09H44.6 M46.4 571.15H44.6 M46.4 569.47H44.6 M46.4 567.99H44.6 M46.4 557.96H44.6 M46.4 552.86H44.6 M46.4 549.25H44.6 M46.4 546.44H44.6 M46.4 544.15H44.6 M46.4 542.22H44.6 M46.4 540.54H44.6 M46.4 539.06H44.6 M46.4 529.02H44.6 M46.4 523.93H44.6 M46.4 520.31H44.6 M46.4 517.51H44.6 M46.4 515.22H44.6 M46.4 513.28H44.6 M46.4 511.60H44.6 M46.4 510.12H44.6" stroke="#333" stroke-width="0.8"/>
<path d="M46.4 508.8H312.5V595.6" fill="none" stroke="#8a8a8a" stroke-width="1"/>
<path d="M46.4 508.8V595.6H312.5" fill="none" stroke="#333" stroke-width="1"/>
<text x="42.6" y="600.40" font-size="13.2" text-anchor="end" fill="#111" stroke="#111" stroke-width="0.2">10<tspan font-size="9" dy="-5.6">-1</tspan></text>
<text x="42.6" y="571.47" font-size="13.2" text-anchor="end" fill="#111" stroke="#111" stroke-width="0.2">10<tspan font-size="9" dy="-5.6">0</tspan></text>
<text x="42.6" y="542.53" font-size="13.2" text-anchor="end" fill="#111" stroke="#111" stroke-width="0.2">10<tspan font-size="9" dy="-5.6">1</tspan></text>
<text x="42.6" y="513.60" font-size="13.2" text-anchor="end" fill="#111" stroke="#111" stroke-width="0.2">10<tspan font-size="9" dy="-5.6">2</tspan></text>
<rect x="46.4" y="607.3" width="266.1" height="86.90000000000009" fill="url(#gE_bg2)"/>
<path d="M46.40 694.2V697.2 M105.90 694.2V697.2 M165.40 694.2V697.2 M224.90 694.2V697.2 M284.40 694.2V697.2 M64.31 694.2V696.0 M74.79 694.2V696.0 M82.22 694.2V696.0 M87.99 694.2V696.0 M92.70 694.2V696.0 M96.68 694.2V696.0 M100.13 694.2V696.0 M103.18 694.2V696.0 M123.81 694.2V696.0 M134.29 694.2V696.0 M141.72 694.2V696.0 M147.49 694.2V696.0 M152.20 694.2V696.0 M156.18 694.2V696.0 M159.63 694.2V696.0 M162.68 694.2V696.0 M183.31 694.2V696.0 M193.79 694.2V696.0 M201.22 694.2V696.0 M206.99 694.2V696.0 M211.70 694.2V696.0 M215.68 694.2V696.0 M219.13 694.2V696.0 M222.18 694.2V696.0 M242.81 694.2V696.0 M253.29 694.2V696.0 M260.72 694.2V696.0 M266.49 694.2V696.0 M271.20 694.2V696.0 M275.18 694.2V696.0 M278.63 694.2V696.0 M281.68 694.2V696.0 M302.31 694.2V696.0 M46.4 694.20H43.4 M46.4 665.23H43.4 M46.4 636.27H43.4 M46.4 607.30H43.4 M46.4 685.48H44.6 M46.4 680.38H44.6 M46.4 676.76H44.6 M46.4 673.95H44.6 M46.4 671.66H44.6 M46.4 669.72H44.6 M46.4 668.04H44.6 M46.4 666.56H44.6 M46.4 656.51H44.6 M46.4 651.41H44.6 M46.4 647.79H44.6 M46.4 644.99H44.6 M46.4 642.69H44.6 M46.4 640.75H44.6 M46.4 639.07H44.6 M46.4 637.59H44.6 M46.4 627.55H44.6 M46.4 622.45H44.6 M46.4 618.83H44.6 M46.4 616.02H44.6 M46.4 613.73H44.6 M46.4 611.79H44.6 M46.4 610.11H44.6 M46.4 608.63H44.6" stroke="#333" stroke-width="0.8"/>
<path d="M46.4 607.3H312.5V694.2" fill="none" stroke="#8a8a8a" stroke-width="1"/>
<path d="M46.4 607.3V694.2H312.5" fill="none" stroke="#333" stroke-width="1"/>
<text x="42.6" y="699.00" font-size="13.2" text-anchor="end" fill="#111" stroke="#111" stroke-width="0.2">10<tspan font-size="9" dy="-5.6">-1</tspan></text>
<text x="42.6" y="670.03" font-size="13.2" text-anchor="end" fill="#111" stroke="#111" stroke-width="0.2">10<tspan font-size="9" dy="-5.6">0</tspan></text>
<text x="42.6" y="641.07" font-size="13.2" text-anchor="end" fill="#111" stroke="#111" stroke-width="0.2">10<tspan font-size="9" dy="-5.6">1</tspan></text>
<text x="42.6" y="612.10" font-size="13.2" text-anchor="end" fill="#111" stroke="#111" stroke-width="0.2">10<tspan font-size="9" dy="-5.6">2</tspan></text>
<text x="46.70" y="709.8" font-size="13.2" text-anchor="middle" fill="#111" stroke="#111" stroke-width="0.2">10<tspan font-size="9" dy="-5.6">0</tspan></text>
<text x="106.20" y="709.8" font-size="13.2" text-anchor="middle" fill="#111" stroke="#111" stroke-width="0.2">10<tspan font-size="9" dy="-5.6">1</tspan></text>
<text x="165.70" y="709.8" font-size="13.2" text-anchor="middle" fill="#111" stroke="#111" stroke-width="0.2">10<tspan font-size="9" dy="-5.6">2</tspan></text>
<text x="225.20" y="709.8" font-size="13.2" text-anchor="middle" fill="#111" stroke="#111" stroke-width="0.2">10<tspan font-size="9" dy="-5.6">3</tspan></text>
<text x="284.70" y="709.8" font-size="13.2" text-anchor="middle" fill="#111" stroke="#111" stroke-width="0.2">10<tspan font-size="9" dy="-5.6">4</tspan></text>
<text x="179.3" y="728.8" font-size="14.2" text-anchor="middle" fill="#111" stroke="#111" stroke-width="0.2">Luminance (cd m<tspan font-size="9" dy="-5">-2</tspan><tspan dy="5">)</tspan></text>
<text transform="translate(8.3,550.5) rotate(-90)" x="0" y="5.22" font-size="14.5" text-anchor="middle" font-weight="normal" fill="#111"  stroke="#111" stroke-width="0.2">EQE (%)</text>
<text transform="translate(8.3,648.4) rotate(-90)" x="0" y="5.1" font-size="14.3" text-anchor="middle" fill="#111" stroke="#111" stroke-width="0.2">CE (cd A<tspan font-size="9" dy="-5">-1</tspan><tspan dy="5">)</tspan></text>
<polyline points="77.0,521.6 122.4,521.6 149.8,523.0 170.4,523.8 188.0,524.8 202.3,525.4 216.6,526.3 226.6,527.0 235.7,528.4 243.3,529.3 250.9,530.8 257.0,532.0 263.0,533.6 269.0,535.0 275.2,537.5 279.7,540.0 282.2,542.0 283.4,545.0" fill="none" stroke="#4b8ef5" stroke-width="1.2"/>
<path d="M77 517.70L80.90 521.6L77 525.50L73.10 521.6Z" fill="#fff" stroke="#4b8ef5" stroke-width="1.15"/>
<path d="M122.4 517.70L126.30 521.6L122.4 525.50L118.50 521.6Z" fill="#fff" stroke="#4b8ef5" stroke-width="1.15"/>
<path d="M149.8 519.10L153.70 523L149.8 526.90L145.90 523Z" fill="#fff" stroke="#4b8ef5" stroke-width="1.15"/>
<path d="M170.4 519.90L174.30 523.8L170.4 527.70L166.50 523.8Z" fill="#fff" stroke="#4b8ef5" stroke-width="1.15"/>
<path d="M188 520.90L191.90 524.8L188 528.70L184.10 524.8Z" fill="#fff" stroke="#4b8ef5" stroke-width="1.15"/>
<path d="M202.3 521.50L206.20 525.4L202.3 529.30L198.40 525.4Z" fill="#fff" stroke="#4b8ef5" stroke-width="1.15"/>
<path d="M216.6 522.40L220.50 526.3L216.6 530.20L212.70 526.3Z" fill="#fff" stroke="#4b8ef5" stroke-width="1.15"/>
<path d="M226.6 523.10L230.50 527L226.6 530.90L222.70 527Z" fill="#fff" stroke="#4b8ef5" stroke-width="1.15"/>
<path d="M235.7 524.50L239.60 528.4L235.7 532.30L231.80 528.4Z" fill="#fff" stroke="#4b8ef5" stroke-width="1.15"/>
<path d="M243.3 525.40L247.20 529.3L243.3 533.20L239.40 529.3Z" fill="#fff" stroke="#4b8ef5" stroke-width="1.15"/>
<path d="M250.9 526.90L254.80 530.8L250.9 534.70L247.00 530.8Z" fill="#fff" stroke="#4b8ef5" stroke-width="1.15"/>
<path d="M257 528.10L260.90 532L257 535.90L253.10 532Z" fill="#fff" stroke="#4b8ef5" stroke-width="1.15"/>
<path d="M263 529.70L266.90 533.6L263 537.50L259.10 533.6Z" fill="#fff" stroke="#4b8ef5" stroke-width="1.15"/>
<path d="M269 531.10L272.90 535L269 538.90L265.10 535Z" fill="#fff" stroke="#4b8ef5" stroke-width="1.15"/>
<path d="M275.2 533.60L279.10 537.5L275.2 541.40L271.30 537.5Z" fill="#fff" stroke="#4b8ef5" stroke-width="1.15"/>
<path d="M279.7 536.10L283.60 540L279.7 543.90L275.80 540Z" fill="#fff" stroke="#4b8ef5" stroke-width="1.15"/>
<path d="M282.2 538.10L286.10 542L282.2 545.90L278.30 542Z" fill="#fff" stroke="#4b8ef5" stroke-width="1.15"/>
<path d="M283.4 541.10L287.30 545L283.4 548.90L279.50 545Z" fill="#fff" stroke="#4b8ef5" stroke-width="1.15"/>
<polyline points="68.0,520.0 128.0,521.0 157.6,521.4 181.0,521.7 199.3,522.3 215.3,523.2 227.5,523.8 238.7,525.4 247.8,526.3 255.4,527.5 261.5,528.5 267.6,529.3 273.0,530.5 279.0,532.0 285.0,533.0 291.3,533.8 298.0,534.5 304.0,536.0 308.6,539.0" fill="none" stroke="#3d4ef5" stroke-width="1.2"/>
<circle cx="68" cy="520" r="3.3" fill="#fff" stroke="#3d4ef5" stroke-width="1.15"/>
<circle cx="128" cy="521" r="3.3" fill="#fff" stroke="#3d4ef5" stroke-width="1.15"/>
<circle cx="157.6" cy="521.4" r="3.3" fill="#fff" stroke="#3d4ef5" stroke-width="1.15"/>
<circle cx="181" cy="521.7" r="3.3" fill="#fff" stroke="#3d4ef5" stroke-width="1.15"/>
<circle cx="199.3" cy="522.3" r="3.3" fill="#fff" stroke="#3d4ef5" stroke-width="1.15"/>
<circle cx="215.3" cy="523.2" r="3.3" fill="#fff" stroke="#3d4ef5" stroke-width="1.15"/>
<circle cx="227.5" cy="523.8" r="3.3" fill="#fff" stroke="#3d4ef5" stroke-width="1.15"/>
<circle cx="238.7" cy="525.4" r="3.3" fill="#fff" stroke="#3d4ef5" stroke-width="1.15"/>
<circle cx="247.8" cy="526.3" r="3.3" fill="#fff" stroke="#3d4ef5" stroke-width="1.15"/>
<circle cx="255.4" cy="527.5" r="3.3" fill="#fff" stroke="#3d4ef5" stroke-width="1.15"/>
<circle cx="261.5" cy="528.5" r="3.3" fill="#fff" stroke="#3d4ef5" stroke-width="1.15"/>
<circle cx="267.6" cy="529.3" r="3.3" fill="#fff" stroke="#3d4ef5" stroke-width="1.15"/>
<circle cx="273" cy="530.5" r="3.3" fill="#fff" stroke="#3d4ef5" stroke-width="1.15"/>
<circle cx="279" cy="532" r="3.3" fill="#fff" stroke="#3d4ef5" stroke-width="1.15"/>
<circle cx="285" cy="533" r="3.3" fill="#fff" stroke="#3d4ef5" stroke-width="1.15"/>
<circle cx="291.3" cy="533.8" r="3.3" fill="#fff" stroke="#3d4ef5" stroke-width="1.15"/>
<circle cx="298" cy="534.5" r="3.3" fill="#fff" stroke="#3d4ef5" stroke-width="1.15"/>
<circle cx="304" cy="536" r="3.3" fill="#fff" stroke="#3d4ef5" stroke-width="1.15"/>
<circle cx="308.6" cy="539" r="3.3" fill="#fff" stroke="#3d4ef5" stroke-width="1.15"/>
<polyline points="77.0,621.0 122.4,621.0 149.8,622.4 170.4,623.2 188.0,624.2 202.3,624.8 216.6,625.7 226.6,626.4 235.7,627.8 243.3,628.7 250.9,630.2 257.0,631.4 263.0,633.0 269.0,634.4 275.2,636.9 279.7,639.4 282.2,641.4 283.4,644.4" fill="none" stroke="#4b8ef5" stroke-width="1.2"/>
<path d="M77 617.10L80.90 621.0L77 624.90L73.10 621.0Z" fill="#fff" stroke="#4b8ef5" stroke-width="1.15"/>
<path d="M122.4 617.10L126.30 621.0L122.4 624.90L118.50 621.0Z" fill="#fff" stroke="#4b8ef5" stroke-width="1.15"/>
<path d="M149.8 618.50L153.70 622.4L149.8 626.30L145.90 622.4Z" fill="#fff" stroke="#4b8ef5" stroke-width="1.15"/>
<path d="M170.4 619.30L174.30 623.2L170.4 627.10L166.50 623.2Z" fill="#fff" stroke="#4b8ef5" stroke-width="1.15"/>
<path d="M188 620.30L191.90 624.2L188 628.10L184.10 624.2Z" fill="#fff" stroke="#4b8ef5" stroke-width="1.15"/>
<path d="M202.3 620.90L206.20 624.8L202.3 628.70L198.40 624.8Z" fill="#fff" stroke="#4b8ef5" stroke-width="1.15"/>
<path d="M216.6 621.80L220.50 625.7L216.6 629.60L212.70 625.7Z" fill="#fff" stroke="#4b8ef5" stroke-width="1.15"/>
<path d="M226.6 622.50L230.50 626.4L226.6 630.30L222.70 626.4Z" fill="#fff" stroke="#4b8ef5" stroke-width="1.15"/>
<path d="M235.7 623.90L239.60 627.8L235.7 631.70L231.80 627.8Z" fill="#fff" stroke="#4b8ef5" stroke-width="1.15"/>
<path d="M243.3 624.80L247.20 628.7L243.3 632.60L239.40 628.7Z" fill="#fff" stroke="#4b8ef5" stroke-width="1.15"/>
<path d="M250.9 626.30L254.80 630.2L250.9 634.10L247.00 630.2Z" fill="#fff" stroke="#4b8ef5" stroke-width="1.15"/>
<path d="M257 627.50L260.90 631.4L257 635.30L253.10 631.4Z" fill="#fff" stroke="#4b8ef5" stroke-width="1.15"/>
<path d="M263 629.10L266.90 633.0L263 636.90L259.10 633.0Z" fill="#fff" stroke="#4b8ef5" stroke-width="1.15"/>
<path d="M269 630.50L272.90 634.4L269 638.30L265.10 634.4Z" fill="#fff" stroke="#4b8ef5" stroke-width="1.15"/>
<path d="M275.2 633.00L279.10 636.9L275.2 640.80L271.30 636.9Z" fill="#fff" stroke="#4b8ef5" stroke-width="1.15"/>
<path d="M279.7 635.50L283.60 639.4L279.7 643.30L275.80 639.4Z" fill="#fff" stroke="#4b8ef5" stroke-width="1.15"/>
<path d="M282.2 637.50L286.10 641.4L282.2 645.30L278.30 641.4Z" fill="#fff" stroke="#4b8ef5" stroke-width="1.15"/>
<path d="M283.4 640.50L287.30 644.4L283.4 648.30L279.50 644.4Z" fill="#fff" stroke="#4b8ef5" stroke-width="1.15"/>
<polyline points="68.0,619.8 128.0,620.8 157.6,621.2 181.0,621.5 199.3,622.1 215.3,623.0 227.5,623.6 238.7,625.2 247.8,626.1 255.4,627.3 261.5,628.3 267.6,629.1 273.0,630.3 279.0,631.8 285.0,632.8 291.3,633.6 298.0,634.3 304.0,635.8 308.6,638.8" fill="none" stroke="#3d4ef5" stroke-width="1.2"/>
<circle cx="68" cy="619.8" r="3.3" fill="#fff" stroke="#3d4ef5" stroke-width="1.15"/>
<circle cx="128" cy="620.8" r="3.3" fill="#fff" stroke="#3d4ef5" stroke-width="1.15"/>
<circle cx="157.6" cy="621.2" r="3.3" fill="#fff" stroke="#3d4ef5" stroke-width="1.15"/>
<circle cx="181" cy="621.5" r="3.3" fill="#fff" stroke="#3d4ef5" stroke-width="1.15"/>
<circle cx="199.3" cy="622.1" r="3.3" fill="#fff" stroke="#3d4ef5" stroke-width="1.15"/>
<circle cx="215.3" cy="623.0" r="3.3" fill="#fff" stroke="#3d4ef5" stroke-width="1.15"/>
<circle cx="227.5" cy="623.6" r="3.3" fill="#fff" stroke="#3d4ef5" stroke-width="1.15"/>
<circle cx="238.7" cy="625.2" r="3.3" fill="#fff" stroke="#3d4ef5" stroke-width="1.15"/>
<circle cx="247.8" cy="626.1" r="3.3" fill="#fff" stroke="#3d4ef5" stroke-width="1.15"/>
<circle cx="255.4" cy="627.3" r="3.3" fill="#fff" stroke="#3d4ef5" stroke-width="1.15"/>
<circle cx="261.5" cy="628.3" r="3.3" fill="#fff" stroke="#3d4ef5" stroke-width="1.15"/>
<circle cx="267.6" cy="629.1" r="3.3" fill="#fff" stroke="#3d4ef5" stroke-width="1.15"/>
<circle cx="273" cy="630.3" r="3.3" fill="#fff" stroke="#3d4ef5" stroke-width="1.15"/>
<circle cx="279" cy="631.8" r="3.3" fill="#fff" stroke="#3d4ef5" stroke-width="1.15"/>
<circle cx="285" cy="632.8" r="3.3" fill="#fff" stroke="#3d4ef5" stroke-width="1.15"/>
<circle cx="291.3" cy="633.6" r="3.3" fill="#fff" stroke="#3d4ef5" stroke-width="1.15"/>
<circle cx="298" cy="634.3" r="3.3" fill="#fff" stroke="#3d4ef5" stroke-width="1.15"/>
<circle cx="304" cy="635.8" r="3.3" fill="#fff" stroke="#3d4ef5" stroke-width="1.15"/>
<circle cx="308.6" cy="638.8" r="3.3" fill="#fff" stroke="#3d4ef5" stroke-width="1.15"/>
<text x="56" y="568" font-size="14" font-weight="bold" fill="#3d4ef5" stroke="#3d4ef5" stroke-width="0.2">EQE<tspan font-size="9.6" dy="3.5">max/100/1000</tspan><tspan dy="-3.5"> = 41.2%/37.2%/31.6%</tspan></text>
<text x="56" y="588.3" font-size="14" font-weight="bold" fill="#4b8ef5" stroke="#4b8ef5" stroke-width="0.2">EQE<tspan font-size="9.6" dy="3.5">max/100/1000</tspan><tspan dy="-3.5"> = 37.0%/32.8%/26.2%</tspan></text>
<text x="48.6" y="637.2" font-size="14" text-anchor="start" font-weight="bold" fill="#3d4ef5"  stroke="#3d4ef5" stroke-width="0.2">34.5</text>
<text x="81.2" y="637.2" font-size="14" text-anchor="start" font-weight="bold" fill="#4b8ef5"  stroke="#4b8ef5" stroke-width="0.2">33.6</text>
<path d="M67 660H99" stroke="#3d4ef5" stroke-width="1.2"/>
<circle cx="83" cy="660" r="3.3" fill="#fff" stroke="#3d4ef5" stroke-width="1.15"/>
<path d="M67 675.6H99" stroke="#4b8ef5" stroke-width="1.2"/>
<path d="M83 671.70L86.90 675.6L83 679.50L79.10 675.6Z" fill="#fff" stroke="#4b8ef5" stroke-width="1.15"/>
<text x="103" y="665.5" font-size="14" fill="#111" stroke="#111" stroke-width="0.2"><tspan font-weight="bold">BOCzSi</tspan> : 3% <tspan font-family="Liberation Serif" font-style="italic">ν</tspan>-DABNA</text>
<text x="103" y="681" font-size="14" fill="#111" stroke="#111" stroke-width="0.2"><tspan font-weight="bold">2BOCzSi</tspan> : 3% <tspan font-family="Liberation Serif" font-style="italic">ν</tspan>-DABNA</text></g>
<g id="pf"><text x="361.5" y="516" font-size="19" text-anchor="start" font-weight="bold" fill="#000"  stroke="#000" stroke-width="0.2">f</text>
<rect x="407.6" y="508" width="230.39999999999998" height="185.39999999999998" fill="url(#gF_bg)"/>
<rect x="561.20" y="508" width="76.80" height="61.80" fill="#93d1f2"/>
<path d="M407.60 693.4V696.9 M446.00 693.4V696.9 M484.40 693.4V696.9 M522.80 693.4V696.9 M561.20 693.4V696.9 M599.60 693.4V696.9 M638.00 693.4V696.9 M426.80 693.4V695.4 M465.20 693.4V695.4 M503.60 693.4V695.4 M542.00 693.4V695.4 M580.40 693.4V695.4 M618.80 693.4V695.4 M407.6 693.40H404.1 M407.6 662.50H404.1 M407.6 631.60H404.1 M407.6 600.70H404.1 M407.6 569.80H404.1 M407.6 538.90H404.1 M407.6 508.00H404.1 M407.6 677.95H405.6 M407.6 647.05H405.6 M407.6 616.15H405.6 M407.6 585.25H405.6 M407.6 554.35H405.6 M407.6 523.45H405.6" stroke="#333" stroke-width="0.8"/>
<path d="M407.6 508H638V693.4" fill="none" stroke="#999" stroke-width="1.6"/>
<path d="M407.6 508V693.4H638" fill="none" stroke="#333" stroke-width="1"/>
<path d="M407.6 569.80H638M561.20 508V693.4" stroke="#4a4a4a" stroke-width="1.4" stroke-dasharray="5.2,4"/>
<text x="407.6" y="711.2" font-size="14" text-anchor="middle" font-weight="normal" fill="#111"  stroke="#111" stroke-width="0.2">10</text>
<text x="446.0" y="711.2" font-size="14" text-anchor="middle" font-weight="normal" fill="#111"  stroke="#111" stroke-width="0.2">15</text>
<text x="484.4" y="711.2" font-size="14" text-anchor="middle" font-weight="normal" fill="#111"  stroke="#111" stroke-width="0.2">20</text>
<text x="522.8" y="711.2" font-size="14" text-anchor="middle" font-weight="normal" fill="#111"  stroke="#111" stroke-width="0.2">25</text>
<text x="561.2" y="711.2" font-size="14" text-anchor="middle" font-weight="normal" fill="#111"  stroke="#111" stroke-width="0.2">30</text>
<text x="599.6" y="711.2" font-size="14" text-anchor="middle" font-weight="normal" fill="#111"  stroke="#111" stroke-width="0.2">35</text>
<text x="638.0" y="711.2" font-size="14" text-anchor="middle" font-weight="normal" fill="#111"  stroke="#111" stroke-width="0.2">40</text>
<text x="401.3" y="698.4" font-size="14" text-anchor="end" font-weight="normal" fill="#111"  stroke="#111" stroke-width="0.2">20</text>
<text x="401.3" y="667.5" font-size="14" text-anchor="end" font-weight="normal" fill="#111"  stroke="#111" stroke-width="0.2">25</text>
<text x="401.3" y="636.6" font-size="14" text-anchor="end" font-weight="normal" fill="#111"  stroke="#111" stroke-width="0.2">30</text>
<text x="401.3" y="605.7" font-size="14" text-anchor="end" font-weight="normal" fill="#111"  stroke="#111" stroke-width="0.2">35</text>
<text x="401.3" y="574.8" font-size="14" text-anchor="end" font-weight="normal" fill="#111"  stroke="#111" stroke-width="0.2">40</text>
<text x="401.3" y="543.9" font-size="14" text-anchor="end" font-weight="normal" fill="#111"  stroke="#111" stroke-width="0.2">45</text>
<text x="401.3" y="513.0" font-size="14" text-anchor="end" font-weight="normal" fill="#111"  stroke="#111" stroke-width="0.2">50</text>
<text x="522.4" y="727.3" font-size="14" text-anchor="middle" fill="#111" stroke="#111" stroke-width="0.2">EQE<tspan font-size="9.6" dy="3.5">1000</tspan><tspan dy="-3.5"> (%)</tspan></text>
<text transform="translate(372.3,600.2) rotate(-90)" x="0" y="5" font-size="14" text-anchor="middle" fill="#111" stroke="#111" stroke-width="0.2">EQE<tspan font-size="9.6" dy="3.5">max</tspan><tspan dy="-3.5"> (%)</tspan></text>
<circle cx="410.67" cy="560.53" r="2.6" fill="#fff" stroke="#666" stroke-width="0.8"/>
<circle cx="418.28" cy="647.05" r="2.6" fill="#fff" stroke="#666" stroke-width="0.8"/>
<circle cx="424.50" cy="635.93" r="2.6" fill="#fff" stroke="#666" stroke-width="0.8"/>
<circle cx="425.26" cy="659.41" r="2.6" fill="#fff" stroke="#666" stroke-width="0.8"/>
<circle cx="445.23" cy="664.97" r="2.6" fill="#fff" stroke="#666" stroke-width="0.8"/>
<circle cx="446.00" cy="651.38" r="2.6" fill="#fff" stroke="#666" stroke-width="0.8"/>
<circle cx="449.84" cy="612.44" r="2.6" fill="#fff" stroke="#666" stroke-width="0.8"/>
<circle cx="452.91" cy="651.99" r="2.6" fill="#fff" stroke="#666" stroke-width="0.8"/>
<circle cx="453.68" cy="618.62" r="2.6" fill="#fff" stroke="#666" stroke-width="0.8"/>
<circle cx="455.22" cy="647.05" r="2.6" fill="#fff" stroke="#666" stroke-width="0.8"/>
<circle cx="465.20" cy="642.72" r="2.6" fill="#fff" stroke="#666" stroke-width="0.8"/>
<circle cx="467.50" cy="627.27" r="2.6" fill="#fff" stroke="#666" stroke-width="0.8"/>
<circle cx="473.65" cy="639.63" r="2.6" fill="#fff" stroke="#666" stroke-width="0.8"/>
<circle cx="475.95" cy="658.17" r="2.6" fill="#fff" stroke="#666" stroke-width="0.8"/>
<circle cx="484.40" cy="660.03" r="2.6" fill="#fff" stroke="#666" stroke-width="0.8"/>
<circle cx="488.24" cy="630.36" r="2.6" fill="#fff" stroke="#666" stroke-width="0.8"/>
<circle cx="489.78" cy="621.71" r="2.6" fill="#fff" stroke="#666" stroke-width="0.8"/>
<circle cx="490.54" cy="682.89" r="2.6" fill="#fff" stroke="#666" stroke-width="0.8"/>
<circle cx="491.85" cy="584.63" r="2.6" fill="#fff" stroke="#666" stroke-width="0.8"/>
<circle cx="493.39" cy="576.78" r="2.6" fill="#fff" stroke="#666" stroke-width="0.8"/>
<circle cx="496.69" cy="668.06" r="2.6" fill="#fff" stroke="#666" stroke-width="0.8"/>
<circle cx="510.51" cy="652.61" r="2.6" fill="#fff" stroke="#666" stroke-width="0.8"/>
<circle cx="514.35" cy="572.89" r="2.6" fill="#fff" stroke="#666" stroke-width="0.8"/>
<circle cx="515.12" cy="637.16" r="2.6" fill="#fff" stroke="#666" stroke-width="0.8"/>
<circle cx="535.86" cy="618.00" r="2.6" fill="#fff" stroke="#666" stroke-width="0.8"/>
<circle cx="537.39" cy="634.69" r="2.6" fill="#fff" stroke="#666" stroke-width="0.8"/>
<circle cx="547.38" cy="567.02" r="2.6" fill="#fff" stroke="#666" stroke-width="0.8"/>
<circle cx="551.22" cy="575.36" r="2.6" fill="#fff" stroke="#666" stroke-width="0.8"/>
<circle cx="572.72" cy="572.89" r="2.6" fill="#fff" stroke="#666" stroke-width="0.8"/>
<circle cx="432.94" cy="676.10" r="2.9" fill="#5ab4f0"/>
<circle cx="458.29" cy="581.54" r="2.9" fill="#5ab4f0"/>
<circle cx="479.79" cy="646.43" r="2.9" fill="#5ab4f0"/>
<circle cx="515.89" cy="648.29" r="2.9" fill="#5ab4f0"/>
<circle cx="530.48" cy="604.41" r="2.9" fill="#5ab4f0"/>
<circle cx="571.18" cy="593.28" r="2.9" fill="#5ab4f0"/>
<polygon points="573.40,554.70 575.16,559.57 580.34,559.74 576.25,562.93 577.69,567.91 573.40,565.00 569.11,567.91 570.55,562.93 566.46,559.74 571.64,559.57" fill="#e8414a"/>
<text x="600.5" y="521" font-size="11.1" text-anchor="middle" font-weight="normal" fill="#e84b55"  stroke="#e84b55" stroke-width="0.2">High EQE and</text>
<text x="600.5" y="535" font-size="11.1" text-anchor="middle" font-weight="normal" fill="#e84b55"  stroke="#e84b55" stroke-width="0.2">low roll-off area</text>
<circle cx="408.2" cy="501" r="3.1" fill="#fff" stroke="#666" stroke-width="0.8"/>
<text x="419.2" y="504.8" font-size="11.4" text-anchor="start" font-weight="normal" fill="#111"  stroke="#111" stroke-width="0.2">Previous work</text>
<circle cx="505.7" cy="501" r="3" fill="#5ab4f0"/>
<text x="516.6" y="504.8" font-size="11.4" fill="#111" stroke="#111" stroke-width="0.2"><tspan font-family="Liberation Serif" font-style="italic">ν</tspan>-DABNA</text>
<polygon points="582.50,493.70 584.09,498.12 588.78,498.26 585.07,501.13 586.38,505.64 582.50,503.00 578.62,505.64 579.93,501.13 576.22,498.26 580.91,498.12" fill="#e8414a"/>
<text x="594.2" y="504.8" font-size="11.4" text-anchor="start" font-weight="normal" fill="#111"  stroke="#111" stroke-width="0.2">This work</text></g>
</svg>
<div style="position:absolute;left:158px;top:255px;width:100px;height:80px;clip-path:polygon(3.4px 2.6px, 95.5px 2.6px, 98px 4.2px, 97.2px 6.5px, 29.2px 77.6px, 26.5px 76.5px, 23.9px 74px, 22px 70.5px, 19.7px 65.5px, 16.7px 58.5px, 13.8px 50.4px, 10.8px 40px, 8px 28.6px, 5.5px 15px);background:radial-gradient(circle at 55px 22px, rgba(255,255,255,0.92) 0px, rgba(255,255,255,0.55) 9px, rgba(255,255,255,0) 26px), radial-gradient(circle at 29px 77px, rgba(24,12,238,1) 0px, rgba(30,20,240,0.85) 8px, rgba(40,40,245,0) 24px), conic-gradient(from 0deg at 55px 22px, #c8f8a0 0deg, #eef290 20deg, #f6b060 48deg, #f27038 62deg, #f05868 80deg, #f058a0 100deg, #e848e0 143deg, #a040f0 172deg, #6a40f2 195deg, #4a60f6 212deg, #54a0f8 230deg, #5ac8f8 252deg, #58e0f8 272deg, #5af0f8 292deg, #70f0e0 310deg, #a0f8b8 338deg, #c8f8a0 360deg);"></div>
<svg width="685" height="733" viewBox="0 0 685 733"><text x="160" y="316" font-size="8" text-anchor="start" font-weight="bold" fill="#3030f0"  stroke="#3030f0" stroke-width="0.2">480</text>
<text x="170" y="332.6" font-size="8" text-anchor="start" font-weight="bold" fill="#3030f0"  stroke="#3030f0" stroke-width="0.2">460</text>
<circle cx="179.6" cy="313.4" r="1.6" fill="#fff"/>
<text x="204.6" y="279.2" font-size="10" text-anchor="middle" font-weight="bold" fill="#111" font-style="italic" stroke="#111" stroke-width="0.2">CIE 1931</text>
<text x="254" y="292.4" font-size="9.2" text-anchor="end" font-weight="bold" fill="#111"  stroke="#111" stroke-width="0.2">BOCzSi : (0.12, 0.11)</text>
<text x="254" y="304.4" font-size="9.2" text-anchor="end" font-weight="bold" fill="#111"  stroke="#111" stroke-width="0.2">2BOCzSi : (0.13, 0.12)</text></svg>
</body></html>
